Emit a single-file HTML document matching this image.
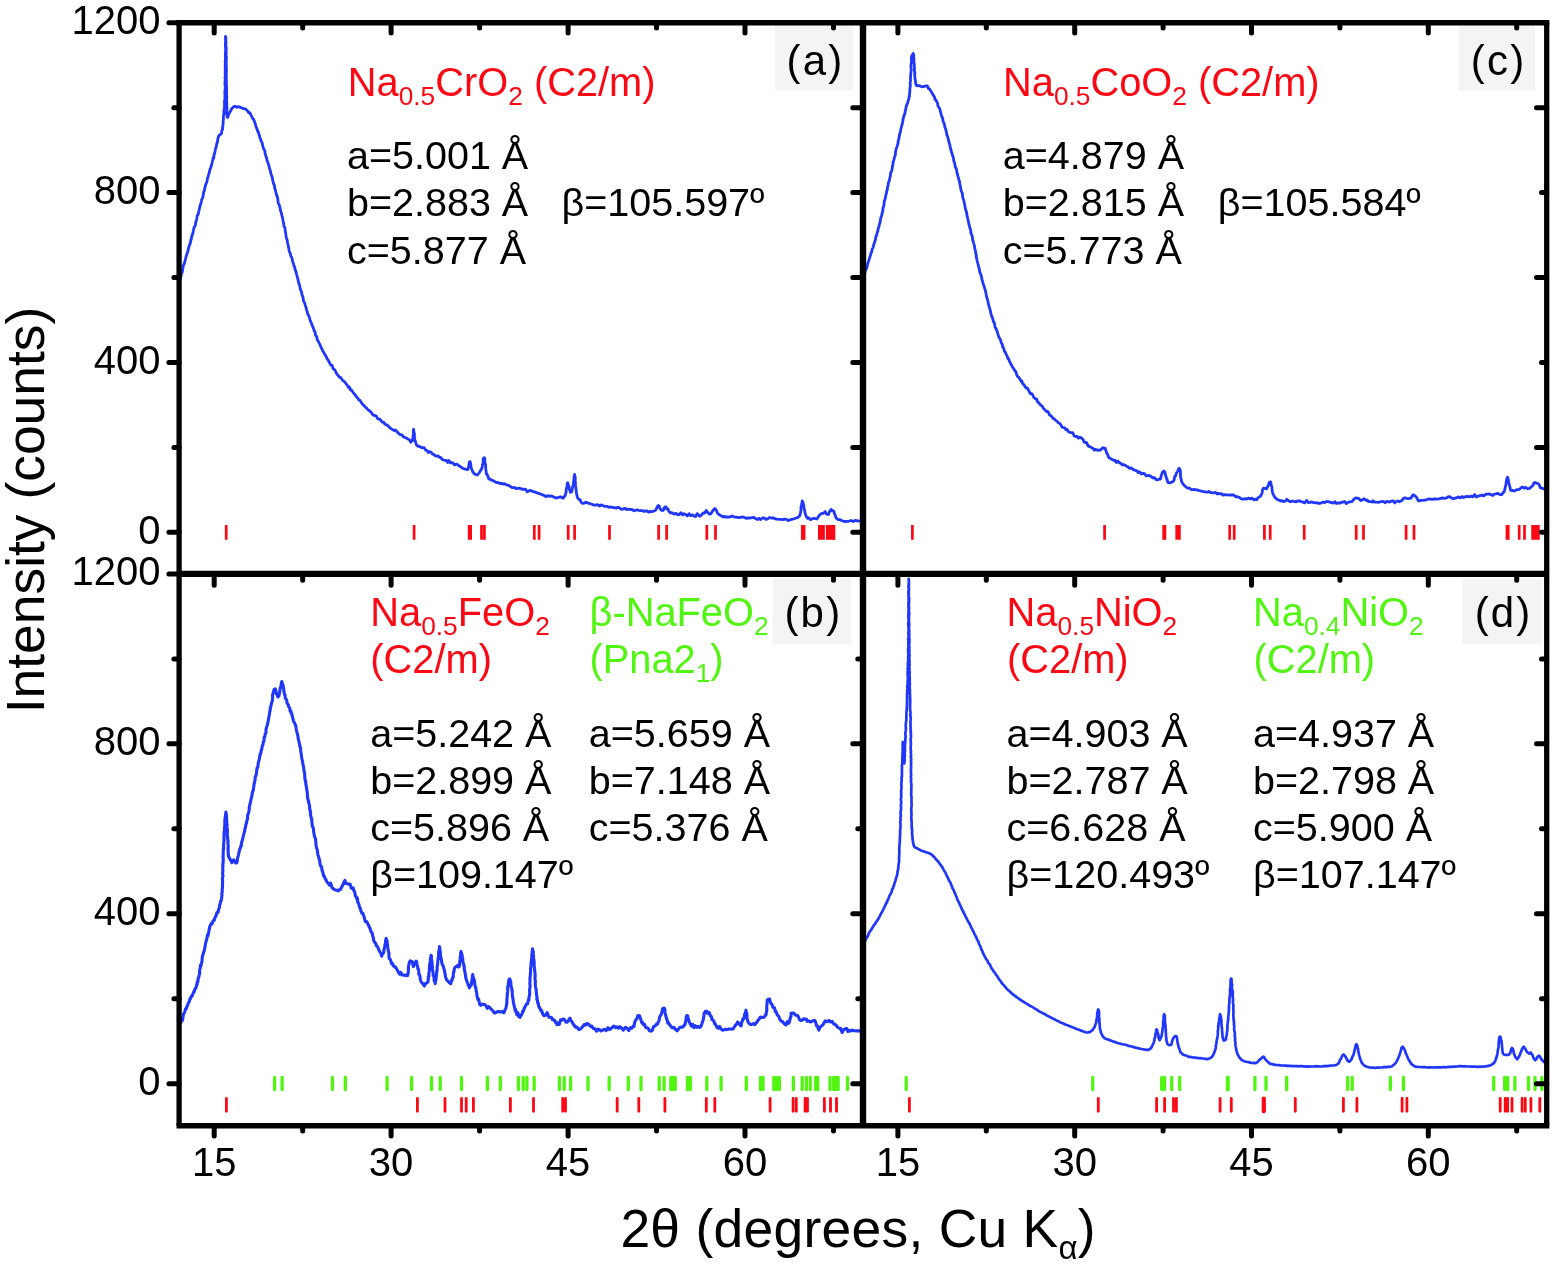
<!DOCTYPE html>
<html lang="en"><head><meta charset="utf-8"><title>XRD patterns</title>
<style>html,body{margin:0;padding:0;background:#fff}svg{display:block;will-change:transform}</style></head>
<body>
<svg width="1556" height="1265" viewBox="0 0 1556 1265" font-family='"Liberation Sans", Arial, Helvetica, sans-serif'>
<rect width="1556" height="1265" fill="#fff"/>
<rect x="775" y="25.4" width="78.0" height="65.0" fill="#f3f4f6"/>
<rect x="1458.5" y="25.4" width="76.5" height="65.2" fill="#f3f4f6"/>
<rect x="772.6" y="578.5" width="78.8" height="65.8" fill="#f3f4f6"/>
<rect x="1462.4" y="578.8" width="79.4" height="64.9" fill="#f3f4f6"/>
<defs>
<clipPath id="ca"><rect x="179.1" y="22.8" width="685.4" height="551.1"/></clipPath>
<clipPath id="cc"><rect x="863.0" y="22.8" width="684.7" height="551.1"/></clipPath>
<clipPath id="cb"><rect x="179.1" y="573.9" width="685.4" height="551.8000000000001"/></clipPath>
<clipPath id="cd"><rect x="863.0" y="576.9" width="684.7" height="551.8000000000001"/></clipPath>
</defs>
<polyline points="179.3,281.4 179.6,279.7 180.3,277.6 180.9,276.7 181.0,275.7 181.6,273.7 182.1,272.6 182.5,270.8 182.7,269.9 183.0,267.2 183.5,265.0 184.1,264.3 184.4,263.1 184.7,261.8 185.2,260.1 185.5,259.0 185.9,257.2 186.2,256.2 187.0,254.1 187.1,253.0 187.9,251.8 188.0,250.1 188.6,248.5 188.9,246.4 189.5,245.7 189.8,244.1 190.3,243.2 190.6,241.2 190.7,240.2 191.3,239.5 191.5,236.8 192.1,235.9 192.3,234.4 192.9,233.7 193.1,231.9 193.3,231.1 193.7,229.0 194.3,226.8 194.7,226.5 195.4,225.1 195.7,222.4 195.9,221.4 196.4,220.5 196.8,218.4 197.1,216.1 197.4,215.2 198.2,214.4 198.6,211.8 199.0,210.6 199.2,209.6 199.4,208.5 199.9,206.4 200.4,205.0 200.7,203.9 201.2,202.1 201.5,200.7 201.7,199.6 202.4,198.4 202.9,196.9 203.3,194.6 203.4,194.1 203.7,191.8 204.1,191.5 204.6,189.4 204.9,187.6 205.3,186.0 205.8,184.5 206.3,183.2 206.9,181.4 207.2,180.3 207.4,178.3 207.9,177.4 208.3,176.0 208.8,173.8 209.4,172.6 209.5,171.0 210.0,169.5 210.7,167.9 211.1,166.4 211.6,165.1 211.9,163.5 212.2,162.3 212.5,160.7 213.0,159.5 213.0,158.0 213.8,157.9 214.0,155.2 214.8,152.7 215.2,150.7 215.3,149.0 216.1,147.5 216.6,145.1 216.8,143.5 217.5,142.1 217.7,139.4 218.0,138.4 218.4,137.0 218.8,135.7 220.0,134.8 221.3,133.5 221.6,133.4 221.7,131.1 222.1,129.9 222.6,129.4 222.5,127.3 222.9,125.8 223.1,123.5 223.1,122.4 223.2,120.5 223.5,118.6 223.3,117.2 223.5,115.6 224.0,113.1 223.9,111.5 224.0,109.7 224.3,108.3 224.6,106.0 224.5,103.8 224.4,101.8 224.9,99.5 224.9,97.2 224.9,95.6 225.0,94.1 224.8,92.8 224.8,91.4 225.0,90.2 225.3,88.6 225.2,87.3 225.3,85.9 224.9,84.3 225.0,82.7 225.0,81.2 225.4,79.8 225.0,78.5 225.1,77.2 225.4,75.9 225.2,74.6 225.2,73.2 225.2,71.8 225.4,70.5 225.1,69.2 225.2,67.8 225.4,66.4 225.1,65.1 225.6,63.8 225.2,62.3 225.2,60.9 225.4,59.3 225.5,57.8 225.4,56.2 225.3,54.6 225.3,53.1 225.7,51.6 225.5,50.2 225.7,48.7 225.4,47.1 225.4,45.4 225.4,43.6 225.5,41.7 225.6,39.8 225.5,37.5 225.5,36.4 225.8,37.4 225.9,39.9 225.8,41.2 226.1,42.4 225.8,43.7 225.8,45.5 226.2,47.2 226.3,48.9 226.2,50.3 226.1,51.8 226.3,53.2 225.9,54.9 226.4,56.4 226.4,58.0 226.3,59.7 226.3,61.2 226.3,62.6 226.1,64.0 226.4,65.3 226.1,66.6 226.5,68.0 226.3,69.3 226.5,70.7 226.3,72.1 226.3,73.5 226.3,74.8 226.4,76.1 226.2,77.4 226.3,78.7 226.4,80.1 226.4,81.3 226.2,82.9 226.5,84.3 226.5,85.9 226.6,87.4 226.6,88.7 226.6,90.1 226.6,91.5 226.8,92.8 226.7,94.1 226.5,95.6 226.9,97.0 226.6,99.1 226.6,101.1 226.8,103.2 226.8,105.2 226.9,107.1 226.9,108.9 227.0,110.6 226.6,112.2 226.7,113.4 226.7,114.6 227.1,115.7 227.1,116.1 227.2,117.2 227.8,117.4 228.2,116.0 228.8,113.7 229.6,112.6 230.6,111.0 231.7,108.7 233.2,107.1 235.0,106.2 236.8,107.4 238.3,106.6 240.5,107.3 242.2,108.1 243.7,108.6 245.3,108.8 247.2,110.5 247.8,111.3 248.7,112.7 249.9,112.7 250.5,114.3 251.4,115.9 252.3,117.7 252.8,118.7 253.7,119.6 254.3,121.1 254.9,122.9 255.4,124.0 255.7,125.7 256.2,127.4 257.0,128.6 257.5,131.0 258.2,131.6 258.4,132.7 259.0,134.7 259.6,135.9 259.9,138.1 260.6,138.9 261.1,140.9 261.8,142.1 262.3,143.4 262.6,145.4 263.1,147.0 263.7,149.2 264.2,149.7 264.9,151.1 265.1,153.6 265.8,155.4 266.0,156.7 266.7,158.1 266.9,160.1 267.5,161.5 268.3,163.7 268.6,165.1 269.1,166.1 269.5,168.6 270.1,169.8 270.5,171.6 271.0,174.1 271.6,175.6 272.0,176.4 272.5,178.6 272.7,180.4 273.4,182.7 273.6,183.9 274.5,185.6 274.6,187.9 275.3,189.8 275.8,191.8 276.6,195.1 277.4,197.2 277.6,197.9 277.9,200.0 278.0,201.2 278.4,203.1 278.6,203.8 279.1,204.5 279.5,206.2 279.9,207.4 280.3,209.0 280.5,210.0 280.7,211.3 281.3,212.8 281.6,214.1 282.0,215.8 282.2,216.9 282.6,218.1 282.8,219.3 283.1,221.1 283.7,223.4 283.9,226.2 284.9,227.5 285.3,231.0 285.7,233.2 286.0,236.2 286.5,238.2 287.3,240.4 287.6,243.0 288.1,244.9 288.6,247.4 289.1,250.3 289.6,252.2 290.4,253.6 290.6,255.7 291.4,256.8 291.9,258.0 292.3,259.6 292.5,261.3 293.1,262.8 293.7,264.3 294.0,266.2 294.8,267.2 295.0,269.4 295.7,270.8 296.3,273.2 296.8,275.1 297.2,276.4 297.4,277.6 298.2,280.1 298.4,282.0 298.7,282.8 299.6,285.3 299.9,286.9 300.2,288.5 300.9,290.6 301.7,292.6 301.9,294.5 302.9,296.9 303.1,298.8 303.7,301.4 304.7,303.0 305.3,305.4 305.8,306.7 306.6,309.9 307.1,311.3 307.7,314.0 308.5,315.4 309.4,317.2 309.9,319.7 310.8,321.7 311.8,324.3 312.4,325.9 313.3,327.8 314.1,330.5 315.1,332.3 315.5,335.4 316.7,336.3 317.1,339.4 318.2,341.1 318.9,342.6 319.8,344.1 320.5,346.1 321.4,347.8 322.3,349.7 322.7,350.8 323.9,352.5 324.5,354.0 325.5,355.4 326.4,357.2 327.2,358.8 327.9,359.7 328.6,361.0 329.5,362.7 330.6,364.8 331.1,365.4 332.2,365.5 333.1,368.7 334.1,369.3 335.0,370.2 335.8,371.9 336.5,373.5 337.5,374.8 338.6,376.0 339.4,377.2 340.6,377.4 341.7,379.0 343.0,380.8 344.0,381.2 345.3,382.6 346.1,383.8 347.4,385.3 348.2,387.3 349.4,386.9 350.3,389.8 351.2,389.6 351.8,390.7 353.2,392.5 354.0,393.7 354.8,394.4 356.0,396.1 356.8,397.2 358.1,398.5 358.7,400.0 360.1,400.3 360.9,402.0 362.1,403.6 363.0,404.7 364.3,405.9 365.3,407.3 366.6,408.0 367.5,409.3 369.0,410.3 370.2,411.3 371.0,412.0 372.6,414.5 373.6,415.4 375.1,415.4 376.3,416.2 377.3,418.3 378.7,419.2 379.9,419.1 381.2,420.8 382.3,422.2 383.5,422.1 384.5,423.6 386.0,424.8 386.9,424.9 388.7,426.3 389.8,427.7 391.4,428.9 392.5,429.6 394.2,430.5 395.4,429.9 396.8,431.6 398.2,432.9 399.8,434.6 401.1,434.7 402.4,435.5 403.8,437.1 405.1,437.5 406.7,438.2 408.3,439.3 409.4,439.7 410.7,442.2 411.9,440.6 412.6,440.7 412.8,438.1 413.1,436.1 413.4,433.6 413.4,431.4 413.3,430.4 413.6,429.3 413.7,429.8 413.9,430.9 414.0,432.0 414.4,433.9 414.4,436.2 414.5,437.5 414.7,440.1 415.2,440.4 415.8,443.0 416.6,445.1 417.9,446.3 419.3,446.1 421.4,447.6 422.7,447.6 424.1,447.7 425.7,450.2 427.0,450.4 428.3,452.6 429.6,451.6 431.2,452.2 432.4,454.1 433.9,454.4 435.5,455.9 436.9,456.1 437.9,455.8 439.4,457.1 440.8,457.6 442.4,459.5 443.4,460.0 444.9,460.3 446.4,460.3 447.7,462.5 449.0,460.6 450.5,462.9 451.8,462.6 453.4,463.3 454.5,464.8 456.4,464.2 457.8,464.6 458.9,465.8 460.5,466.8 461.9,467.6 463.0,468.5 464.7,468.9 466.5,469.5 467.8,469.6 468.5,467.7 468.7,465.7 469.2,463.9 469.2,462.1 469.7,461.8 470.0,461.6 470.5,462.9 470.8,464.6 470.9,466.7 471.5,468.4 472.1,469.9 472.5,471.4 473.9,473.4 475.6,474.5 477.4,475.0 478.6,473.5 479.4,472.8 480.3,470.7 481.3,469.6 481.6,468.9 482.3,466.8 482.4,464.7 483.2,463.0 483.2,460.2 483.3,458.6 483.8,458.1 484.3,457.7 484.5,457.8 484.8,458.5 484.7,459.7 484.9,461.5 485.0,463.3 485.7,465.3 485.7,467.3 485.8,469.7 486.1,470.9 486.3,473.8 486.9,474.1 487.2,475.0 488.1,476.7 488.8,479.0 490.0,479.0 491.0,479.9 492.4,480.3 493.3,480.7 495.0,481.9 496.6,482.5 498.2,482.6 499.9,483.5 501.5,483.3 502.9,484.1 504.5,483.7 506.1,484.6 507.7,485.2 509.1,485.6 510.9,486.9 512.3,487.7 514.4,487.4 516.0,488.7 517.4,488.3 519.3,488.2 520.7,488.6 522.5,489.4 523.9,489.2 525.8,489.3 527.2,491.9 529.2,490.7 530.7,490.4 532.4,491.4 534.2,491.8 535.8,492.3 537.1,492.9 538.6,493.3 539.8,493.8 541.4,494.2 543.0,495.1 544.6,495.6 546.0,496.7 547.7,495.6 549.2,496.3 550.8,496.0 552.1,496.2 553.8,497.0 555.9,498.0 557.7,497.7 559.2,497.2 561.0,496.8 562.0,497.9 563.2,498.2 564.5,496.3 565.1,495.7 565.5,494.4 566.1,492.3 566.1,490.3 566.5,488.3 566.9,486.6 567.2,484.8 567.2,483.7 567.7,482.7 567.8,483.0 568.5,485.8 569.1,486.6 569.4,489.3 570.1,491.1 570.4,492.3 570.8,492.2 571.7,491.8 572.0,489.9 572.3,488.8 572.6,487.2 573.1,485.3 573.5,482.7 573.8,480.8 574.0,478.7 574.0,477.0 574.4,475.9 574.6,474.5 574.7,476.5 575.2,476.8 575.3,478.1 575.1,479.8 575.5,482.4 575.3,484.1 575.7,486.4 576.0,488.9 576.3,491.1 576.4,492.7 576.8,494.7 577.2,496.3 577.7,498.0 578.9,499.5 580.0,499.7 581.3,502.5 582.4,503.4 584.0,503.2 585.7,502.2 587.5,502.8 589.1,503.3 591.1,504.0 593.0,504.7 594.5,505.2 596.0,505.1 597.7,504.6 599.6,506.0 601.4,504.8 603.3,505.7 604.9,506.4 606.8,506.3 608.6,507.3 610.4,506.9 612.6,507.5 614.2,507.6 616.2,508.2 617.8,507.3 619.4,507.9 621.4,509.3 622.9,509.1 625.1,508.2 626.8,509.7 628.3,509.1 630.1,509.5 631.9,509.5 634.0,510.8 635.3,510.3 637.2,509.9 638.7,510.3 640.7,510.7 642.1,510.6 644.1,511.4 645.7,510.8 647.1,511.0 648.5,512.1 650.3,511.4 651.6,511.6 652.6,511.4 654.0,511.0 655.2,510.5 656.0,509.7 657.5,506.4 658.2,505.5 659.2,506.0 659.9,508.2 660.9,509.9 662.1,510.4 663.2,510.4 664.2,507.8 665.8,506.8 666.7,508.9 667.8,508.6 668.8,511.3 670.6,513.0 671.4,512.6 672.7,513.3 674.2,514.1 676.1,513.3 677.7,514.8 679.0,514.7 680.8,512.8 682.6,514.8 684.0,513.7 685.6,514.5 687.3,515.9 689.1,513.7 690.5,515.6 692.6,514.8 693.9,516.1 695.6,516.5 697.1,513.6 698.9,515.4 700.0,516.3 701.4,515.0 703.2,512.9 704.7,513.1 706.3,510.5 707.3,512.0 708.5,513.3 709.5,514.2 710.9,513.7 712.3,511.4 713.5,510.0 714.8,508.5 715.8,509.5 716.7,511.0 717.5,513.3 718.8,514.4 720.3,515.4 721.5,515.8 723.0,517.0 724.3,516.3 726.0,517.2 727.4,516.8 729.0,517.1 730.7,516.7 732.3,515.9 734.3,517.1 735.9,517.1 737.2,517.3 739.3,517.7 741.3,517.2 742.9,517.0 744.5,517.5 746.5,518.4 748.3,517.8 750.2,518.0 752.0,517.7 753.8,517.3 755.5,518.5 757.6,519.5 759.0,518.3 760.8,519.6 762.5,518.0 764.4,518.0 766.0,519.4 767.9,518.7 769.5,517.5 771.6,518.1 773.3,517.8 775.4,518.9 776.8,519.2 779.0,519.3 780.8,519.4 782.7,519.7 785.1,519.1 786.9,519.5 788.3,520.6 790.5,519.7 791.9,519.3 793.0,519.0 794.7,518.6 796.2,517.9 797.8,517.6 799.2,516.2 799.8,515.7 800.1,514.2 800.5,512.6 801.1,509.9 800.9,508.2 801.1,506.5 801.7,504.7 802.0,502.4 802.0,502.4 802.2,501.0 802.9,502.3 803.3,503.2 803.4,504.0 803.7,505.6 804.0,508.1 804.5,509.7 804.9,512.2 805.2,513.4 805.8,515.3 806.3,516.5 807.5,518.3 808.6,517.6 810.3,519.6 811.9,519.1 813.8,518.2 815.4,518.7 816.9,519.0 817.9,517.4 819.0,515.7 820.1,514.4 821.6,513.6 823.6,513.2 825.2,511.6 826.7,514.4 828.5,514.4 829.5,511.8 831.1,509.4 832.2,510.9 832.9,510.6 834.0,511.5 834.5,513.8 835.2,515.2 836.0,517.7 837.1,518.9 838.3,519.7 839.5,519.6 841.1,520.1 842.5,521.0 844.5,521.5 846.5,521.3 848.7,521.3 850.9,520.5 853.2,521.5 855.7,520.3 857.9,521.1 859.6,520.8 861.0,520.9 862.1,521.4 862.4,521.4" fill="none" stroke="#2036f8" stroke-width="2.8" stroke-linejoin="round" stroke-linecap="round" clip-path="url(#ca)"/>
<polyline points="863.7,277.6 863.4,277.2 864.0,276.3 864.1,274.5 864.8,273.1 865.1,271.4 865.9,269.3 866.8,268.2 867.4,265.5 867.6,264.0 868.0,262.9 868.7,260.8 869.3,259.3 869.9,256.7 870.4,255.5 870.9,253.2 871.7,251.9 872.1,249.3 873.1,247.6 873.6,244.9 874.1,243.8 874.7,241.5 875.2,240.8 875.5,239.5 875.7,237.1 876.4,236.2 876.5,235.1 877.1,233.2 877.5,231.7 877.9,230.9 878.2,229.1 878.4,227.8 879.0,226.6 879.2,225.2 879.9,222.7 880.1,222.5 880.4,219.5 880.8,218.5 881.0,217.0 881.7,215.6 882.0,214.1 882.4,212.1 882.9,210.2 882.9,208.7 883.6,206.3 884.1,204.7 884.1,201.9 884.6,200.6 885.0,199.1 885.7,196.7 885.8,194.9 886.5,193.3 886.6,191.3 887.4,189.4 887.4,187.5 887.9,186.4 888.3,183.8 888.7,181.8 889.5,180.4 889.6,178.6 890.2,176.7 890.4,174.8 890.7,172.6 891.5,171.5 892.0,169.6 892.3,167.0 892.6,166.0 892.9,164.6 893.2,161.6 893.6,160.7 894.3,158.4 894.4,157.2 895.3,155.1 895.4,153.9 895.6,151.4 896.0,149.8 896.4,148.2 897.1,146.5 897.4,145.5 898.1,142.9 898.1,141.0 898.6,139.7 899.0,138.3 899.2,136.1 899.6,135.1 899.7,133.7 900.3,132.6 900.5,131.0 900.8,129.2 901.2,127.9 901.7,125.8 902.1,124.7 902.2,123.9 902.8,121.2 903.0,119.8 903.1,118.8 903.6,117.3 903.8,116.1 904.5,114.5 904.8,113.9 905.3,110.8 905.7,109.9 906.1,106.7 906.8,104.7 907.6,103.3 907.9,101.8 908.3,100.2 908.9,99.0 909.0,97.1 909.6,96.1 909.4,94.4 909.8,92.8 909.8,91.0 909.9,89.8 909.9,88.1 910.3,86.5 910.3,84.9 910.1,83.0 910.5,81.3 910.5,79.3 910.5,77.6 910.6,76.0 910.8,73.5 911.1,71.6 911.2,69.3 910.9,66.9 911.1,64.7 911.3,62.7 911.6,60.1 911.3,58.4 911.6,57.1 911.8,55.7 911.9,55.5 912.8,54.2 913.2,53.5 913.2,53.8 913.6,54.3 913.7,55.4 913.6,56.8 914.0,58.9 913.8,60.7 914.0,62.8 914.4,64.6 914.2,66.7 914.6,68.3 914.3,69.6 914.6,71.6 914.9,73.0 914.6,74.4 914.8,76.2 915.0,78.0 915.0,79.0 915.4,80.3 915.5,82.1 915.9,83.9 916.2,85.2 916.9,85.8 918.3,85.5 919.7,85.9 921.9,86.8 923.4,86.5 925.3,86.2 926.7,85.7 927.8,86.6 928.4,88.7 929.4,88.8 930.6,90.7 931.6,92.2 932.0,93.1 932.8,94.4 933.7,95.7 934.6,97.3 934.9,99.2 936.0,100.1 936.6,101.5 937.3,102.5 937.7,104.2 938.0,106.1 938.6,107.0 939.4,108.1 939.9,109.3 940.4,111.6 940.9,112.9 941.1,114.4 941.6,115.7 942.1,117.3 942.8,118.4 942.9,120.7 943.5,122.2 944.1,123.5 944.5,124.6 944.8,127.0 945.6,128.8 946.1,131.3 946.5,132.0 946.7,134.8 947.4,135.8 948.0,138.2 948.5,139.5 948.7,141.3 949.3,143.3 950.0,145.3 950.0,147.0 950.6,148.2 951.1,150.7 951.5,152.3 952.1,153.6 952.8,156.4 953.1,156.8 953.5,158.5 953.8,161.0 954.6,163.0 954.9,164.3 955.3,167.1 956.1,168.2 956.6,170.1 956.9,172.9 957.4,173.6 958.0,176.7 958.5,177.9 959.1,180.6 959.6,181.7 959.7,183.5 960.2,185.5 960.7,188.4 961.2,190.8 961.8,192.3 962.5,194.0 962.5,196.6 963.1,198.4 963.9,200.9 964.1,202.2 964.7,204.8 965.1,207.5 965.5,208.8 966.0,210.8 966.8,213.3 966.9,215.4 967.5,217.2 968.0,219.8 968.5,221.9 969.0,224.5 969.5,226.2 969.9,228.1 970.7,229.8 970.8,232.6 971.5,234.5 972.0,235.8 972.4,236.8 972.6,240.2 973.0,240.7 973.5,242.3 973.8,243.6 974.3,245.2 974.6,247.1 974.7,248.1 975.1,250.2 975.7,251.6 975.6,253.5 976.3,254.4 976.2,255.9 976.5,258.3 976.9,259.1 977.2,261.0 977.8,263.3 978.2,264.6 978.3,266.0 978.9,267.2 979.4,269.4 979.6,271.2 980.1,273.2 980.7,273.9 981.3,276.2 981.7,277.7 982.0,279.7 982.6,281.5 983.0,283.3 983.8,285.4 984.4,287.3 984.7,288.3 985.4,290.6 985.8,292.5 986.2,294.4 986.5,296.6 987.0,297.8 987.7,300.3 988.1,301.6 988.3,303.8 989.1,306.2 989.5,307.8 990.1,309.7 990.5,311.6 990.9,313.8 991.7,316.1 992.3,317.5 992.8,318.8 993.3,321.5 994.3,322.6 994.8,325.5 995.2,327.3 996.2,328.9 997.0,331.0 997.7,333.4 998.1,334.6 998.8,337.2 999.6,338.2 1000.7,340.4 1001.2,342.6 1002.2,344.1 1002.7,346.9 1003.8,348.5 1004.4,351.6 1005.3,352.1 1006.2,354.3 1007.3,356.4 1008.0,358.8 1008.8,359.1 1009.4,361.3 1010.2,362.6 1011.0,364.4 1011.6,365.0 1012.5,367.2 1013.2,367.8 1014.0,369.3 1015.1,370.8 1015.9,371.9 1016.6,374.3 1017.4,376.3 1018.1,376.9 1019.1,377.8 1020.0,379.3 1020.9,381.3 1021.8,380.9 1022.5,383.4 1023.6,384.4 1024.6,385.6 1025.3,387.2 1026.5,388.0 1027.3,388.0 1028.4,390.1 1028.9,390.9 1030.3,393.7 1030.8,393.4 1032.0,393.8 1033.0,395.6 1033.7,397.1 1034.6,398.1 1035.9,399.1 1036.7,399.2 1037.8,402.2 1038.9,402.7 1039.9,404.4 1041.1,405.4 1042.4,406.3 1043.3,408.4 1044.3,409.1 1045.4,410.5 1046.5,411.5 1047.7,411.5 1048.7,412.9 1049.5,415.0 1050.6,415.6 1051.6,416.3 1052.9,418.2 1054.0,418.9 1055.0,419.7 1055.9,420.5 1057.1,421.4 1058.4,422.7 1059.9,423.6 1060.8,424.6 1062.2,427.3 1063.1,427.5 1064.8,427.9 1065.9,429.8 1067.2,429.4 1068.8,432.0 1070.1,432.6 1071.1,432.6 1072.8,432.7 1074.2,436.0 1075.5,436.5 1077.0,436.2 1078.4,438.2 1079.9,437.2 1081.8,438.3 1083.2,439.7 1084.1,442.1 1085.3,442.5 1086.4,442.4 1087.8,445.3 1088.7,446.3 1090.0,446.7 1091.5,447.7 1093.0,448.3 1094.2,450.1 1095.9,449.4 1097.5,450.3 1098.4,450.0 1100.1,450.4 1102.0,448.4 1103.1,447.7 1104.4,448.7 1105.3,448.3 1105.6,449.7 1106.2,451.4 1106.6,453.1 1107.5,453.8 1108.2,456.4 1109.4,458.2 1110.8,458.5 1112.5,459.8 1114.2,460.6 1115.0,460.3 1116.4,462.5 1117.9,461.1 1119.4,462.9 1120.9,463.3 1122.1,464.8 1123.7,464.6 1125.0,465.2 1126.6,466.4 1127.9,466.7 1129.3,468.3 1130.6,467.9 1131.7,468.2 1133.3,469.6 1135.1,470.3 1136.7,470.7 1138.2,472.5 1139.8,471.9 1141.2,474.0 1142.7,473.4 1144.5,473.7 1146.2,476.0 1147.8,475.5 1149.7,475.7 1151.2,476.5 1152.7,478.0 1154.5,477.6 1156.1,479.6 1157.6,479.8 1159.5,479.1 1160.4,479.1 1160.9,477.1 1161.6,474.6 1162.5,472.1 1163.1,472.2 1163.6,471.0 1164.4,471.4 1165.1,473.1 1165.5,474.7 1166.2,477.4 1166.7,478.5 1167.3,480.5 1167.8,482.3 1169.8,482.9 1172.0,481.9 1172.8,481.7 1173.6,481.0 1174.2,479.6 1174.8,476.2 1175.6,476.0 1176.3,473.3 1177.2,472.0 1177.9,470.9 1178.6,468.8 1179.2,468.5 1179.5,468.5 1180.0,469.6 1180.4,471.0 1180.5,472.3 1180.4,474.7 1180.6,477.1 1181.0,478.8 1181.4,480.4 1181.9,482.3 1182.7,483.4 1183.4,484.3 1184.4,485.5 1186.0,487.0 1187.5,488.2 1188.4,488.0 1189.6,488.2 1191.1,489.6 1192.7,489.6 1194.4,489.4 1196.0,489.9 1197.3,489.9 1199.2,490.6 1200.8,490.9 1202.2,491.3 1204.0,491.6 1205.5,492.0 1207.2,492.2 1208.9,491.4 1210.3,492.5 1211.9,492.6 1213.6,493.0 1215.6,492.4 1217.2,494.1 1218.5,493.3 1220.2,493.8 1221.7,493.7 1223.1,495.2 1225.1,494.7 1226.7,494.8 1228.2,494.8 1229.8,495.1 1231.0,495.0 1232.5,494.9 1234.1,495.2 1236.0,497.0 1237.6,496.7 1238.9,497.2 1240.8,498.5 1242.3,499.2 1243.9,499.1 1245.6,498.6 1246.8,499.1 1248.5,498.1 1250.4,499.0 1252.2,498.1 1253.8,499.9 1255.2,499.2 1256.8,499.7 1257.9,497.8 1259.2,496.9 1260.4,496.3 1261.1,495.1 1261.9,493.7 1262.3,491.7 1262.6,489.5 1263.6,488.2 1265.1,488.3 1266.6,488.8 1267.7,486.7 1268.5,484.8 1269.4,482.2 1270.4,482.3 1270.6,482.0 1271.0,483.3 1271.3,485.8 1272.0,486.8 1272.0,489.2 1272.4,491.5 1272.9,493.8 1273.6,495.1 1274.3,496.4 1275.3,497.8 1276.3,498.6 1277.7,499.8 1279.3,500.2 1280.7,501.0 1282.2,500.6 1283.6,501.5 1285.4,501.2 1286.8,499.3 1288.9,500.9 1290.6,501.8 1292.4,501.0 1294.0,501.4 1296.0,501.8 1297.3,501.0 1299.4,500.8 1301.1,501.6 1302.6,501.9 1304.7,502.9 1306.6,500.4 1308.4,502.6 1310.0,502.4 1311.6,501.9 1313.8,502.7 1315.5,502.9 1317.3,502.6 1318.8,503.5 1320.8,503.1 1322.5,502.1 1324.7,502.5 1326.5,501.6 1328.3,501.7 1329.9,502.2 1331.5,502.7 1333.1,503.2 1335.1,501.7 1336.4,503.5 1338.4,502.8 1339.9,503.1 1341.9,502.2 1343.1,502.1 1344.6,501.5 1346.3,503.6 1347.9,502.4 1349.0,501.9 1350.4,501.8 1352.3,501.3 1353.7,499.4 1355.4,498.0 1356.6,498.1 1358.4,498.1 1359.9,499.8 1360.9,500.5 1362.8,499.5 1364.2,498.7 1365.8,500.4 1367.1,500.0 1368.5,501.6 1370.7,501.7 1372.0,502.0 1373.0,500.8 1374.5,502.1 1376.4,502.2 1378.3,502.3 1379.9,501.9 1381.7,501.7 1383.2,501.5 1385.3,502.7 1386.7,501.3 1388.0,501.7 1389.6,502.1 1391.3,501.2 1392.9,500.8 1394.8,502.9 1396.2,501.3 1397.7,501.0 1399.2,501.8 1400.2,501.3 1401.9,500.5 1403.5,498.4 1405.1,497.9 1406.5,498.3 1408.3,498.6 1409.9,498.3 1411.1,498.2 1412.1,496.1 1412.8,494.8 1413.9,494.8 1414.7,495.8 1416.0,496.6 1416.9,498.0 1418.4,500.8 1419.6,500.9 1420.7,500.4 1422.2,500.3 1423.8,500.1 1425.2,500.2 1426.9,499.5 1428.5,499.0 1430.3,499.2 1432.1,499.4 1433.7,499.0 1435.6,498.9 1436.9,499.1 1439.0,498.9 1440.8,498.4 1442.6,497.9 1444.0,498.3 1446.1,498.2 1447.9,496.8 1449.8,496.6 1451.6,498.1 1453.5,498.6 1455.2,498.1 1456.8,497.6 1458.6,496.9 1460.5,497.9 1462.3,496.5 1463.7,497.6 1465.8,496.6 1467.2,496.4 1469.3,496.9 1471.0,496.1 1472.8,496.9 1474.7,494.6 1476.2,496.9 1478.0,496.2 1480.2,495.7 1481.8,495.1 1483.8,495.9 1486.0,494.1 1487.5,494.1 1489.4,493.9 1491.2,494.8 1492.8,495.6 1494.3,494.1 1495.9,493.8 1497.9,493.3 1499.9,494.6 1501.7,494.7 1503.1,492.6 1503.9,492.3 1504.5,490.6 1505.0,488.7 1505.3,486.8 1505.9,485.2 1506.2,481.9 1506.5,480.7 1506.7,478.9 1507.2,478.1 1507.5,477.3 1507.8,477.5 1508.3,479.5 1508.4,480.8 1508.8,482.8 1509.5,485.2 1509.9,486.9 1510.2,488.5 1510.7,490.3 1511.6,490.0 1513.0,490.8 1514.9,490.8 1516.8,489.6 1518.7,489.6 1520.3,488.6 1522.1,486.9 1524.1,488.2 1525.2,487.3 1527.7,488.7 1529.7,488.4 1530.8,487.2 1532.2,486.2 1533.2,484.7 1534.1,482.9 1535.2,482.5 1536.5,483.2 1537.9,483.5 1539.1,484.5 1540.3,487.7 1542.5,488.4 1544.6,489.3 1545.6,489.6" fill="none" stroke="#2036f8" stroke-width="2.8" stroke-linejoin="round" stroke-linecap="round" clip-path="url(#cc)"/>
<polyline points="180.6,1022.2 180.8,1022.4 181.1,1022.0 181.6,1020.8 181.8,1019.6 182.5,1020.2 183.4,1014.5 183.7,1013.8 184.7,1012.2 185.6,1008.7 186.3,1008.8 187.0,1006.2 187.5,1005.7 188.3,1002.9 189.1,1002.1 189.9,998.8 190.4,998.7 191.4,996.2 192.2,996.2 192.6,994.7 193.7,991.8 194.1,992.0 194.9,989.3 195.5,988.7 196.3,986.7 196.9,983.8 197.2,984.3 197.2,981.7 197.9,981.9 198.1,978.6 198.5,977.8 198.8,977.2 199.0,975.6 199.7,973.4 199.5,971.6 199.9,969.2 200.2,968.4 200.4,965.4 201.0,966.1 201.2,963.9 201.7,962.8 202.1,960.4 202.1,959.9 202.2,958.0 202.6,955.4 202.9,955.3 203.2,953.8 204.2,950.7 204.7,948.3 205.0,947.1 205.5,943.6 206.0,941.6 206.7,939.2 207.1,937.7 207.4,935.0 208.0,935.6 208.6,932.5 209.2,929.9 209.6,927.2 210.2,925.7 211.2,923.7 211.8,923.9 212.7,922.2 213.1,920.7 214.2,920.3 214.8,918.2 215.5,916.6 216.0,916.2 216.6,913.5 217.2,912.3 218.0,912.4 218.5,910.1 218.8,908.7 219.3,908.3 219.7,904.4 220.1,904.2 220.6,901.3 221.1,900.9 221.5,898.7 221.7,897.2 222.0,894.7 221.8,893.3 222.1,892.2 222.3,891.3 222.1,889.2 222.4,888.5 222.5,886.5 222.4,885.2 222.7,883.7 222.5,882.4 222.6,880.5 222.5,879.5 222.4,878.1 223.0,876.2 222.7,875.0 222.6,873.1 222.9,871.7 222.8,870.0 222.8,868.5 222.7,867.1 223.0,865.5 222.7,864.2 223.2,862.4 223.2,860.7 223.2,859.5 223.2,858.0 223.0,856.6 223.2,855.5 223.2,854.2 223.2,852.3 223.2,851.3 223.5,849.5 223.4,848.2 223.8,846.6 223.5,844.5 223.9,841.8 224.0,841.5 224.1,839.8 223.8,838.4 224.1,837.3 224.1,835.2 224.0,834.4 224.1,833.1 224.1,831.7 224.7,830.3 224.5,828.8 224.5,827.5 224.7,826.6 224.8,824.4 224.8,822.9 224.8,820.5 225.0,819.2 225.0,818.2 225.3,817.1 225.6,813.9 225.8,814.3 225.9,812.1 226.2,813.7 226.2,814.1 226.3,815.5 226.6,818.1 226.7,820.5 226.8,822.6 226.8,823.0 227.2,825.0 227.0,826.2 226.9,828.2 227.4,829.1 227.4,830.8 227.4,832.1 227.2,834.0 227.3,835.4 227.7,836.9 227.5,838.1 228.0,840.3 228.1,842.0 227.8,843.8 228.2,845.2 228.3,846.9 227.8,848.6 228.3,850.0 228.0,851.9 228.4,853.6 228.3,854.8 228.6,856.4 228.6,856.8 229.0,857.2 229.8,858.9 230.7,860.4 231.9,862.7 233.6,859.9 235.7,863.0 236.5,862.9 237.1,861.9 237.4,858.5 237.8,857.3 238.3,855.6 238.7,853.8 239.2,851.3 239.5,850.7 239.6,849.3 240.3,848.5 240.6,846.6 241.3,846.1 241.4,843.2 242.1,841.0 242.4,840.0 242.6,838.8 243.3,836.2 243.8,834.3 244.1,832.7 244.8,830.9 244.8,829.2 245.3,828.0 245.6,826.3 245.9,825.2 246.3,823.1 246.6,823.1 246.7,821.0 247.2,819.8 247.5,819.0 247.6,815.9 247.9,814.6 248.4,813.4 248.8,811.8 249.2,809.5 249.2,807.3 249.4,807.1 249.7,805.3 250.2,803.0 250.6,801.9 250.8,800.3 251.2,798.4 251.6,797.3 252.1,795.0 252.0,794.6 252.4,792.3 253.0,790.6 253.3,790.6 253.4,788.6 253.9,786.1 254.1,784.0 254.4,783.1 254.8,780.8 255.2,779.3 255.1,777.4 255.6,775.9 256.0,775.8 256.3,773.7 256.6,772.6 256.7,771.0 257.0,768.0 257.7,767.5 258.0,766.0 258.2,763.1 258.5,762.2 258.7,761.2 259.2,759.9 259.6,757.2 259.7,756.6 260.0,754.5 260.2,755.1 260.7,752.8 261.0,752.7 261.3,749.4 261.8,749.3 262.0,747.6 262.2,745.8 262.5,745.7 263.1,744.2 263.2,742.3 263.8,741.4 264.1,739.4 264.1,737.1 264.6,737.1 265.0,736.2 265.1,734.1 265.3,734.0 266.0,732.8 266.0,729.2 266.7,726.9 267.4,724.8 267.8,722.3 268.2,721.4 268.7,717.7 269.3,715.1 269.7,711.9 270.1,710.4 270.4,707.8 271.0,705.8 271.5,702.9 272.0,702.0 272.4,700.3 272.6,698.2 272.6,695.0 273.0,693.5 273.5,691.9 274.0,689.6 274.3,690.2 274.7,689.9 275.3,688.8 275.6,689.5 276.4,694.1 276.8,694.1 277.6,695.9 277.8,697.0 278.2,696.7 278.9,695.9 279.4,693.1 279.8,691.7 280.1,688.6 280.6,687.8 280.9,686.4 281.4,683.1 281.8,681.5 282.1,682.2 282.3,683.1 282.7,684.8 283.1,685.1 283.3,687.0 283.7,688.6 283.8,690.6 284.2,692.3 284.4,694.4 285.1,695.1 285.3,698.3 286.0,698.9 286.8,700.7 287.0,702.8 287.6,704.0 288.4,704.8 288.7,706.9 289.7,707.8 290.1,711.0 290.9,711.0 291.1,713.3 291.8,713.7 292.0,715.2 292.8,718.2 292.9,718.5 293.4,720.7 293.9,722.1 294.4,722.6 294.9,723.8 295.7,725.5 296.2,728.7 296.6,730.8 297.0,732.5 297.7,735.0 298.1,737.1 298.2,738.6 299.0,741.8 299.6,744.3 300.0,747.2 300.5,747.3 300.7,750.7 301.2,753.8 301.6,757.2 302.0,759.2 302.4,761.0 302.7,761.1 302.7,763.6 303.2,765.4 303.5,766.4 303.7,768.2 304.0,769.7 304.1,771.8 304.3,771.8 304.7,774.1 304.7,775.3 304.8,776.3 305.0,779.9 305.5,780.8 305.8,782.4 305.8,784.2 306.2,785.6 306.4,787.5 306.8,788.8 306.7,789.8 307.2,791.7 307.4,793.7 307.4,794.3 307.6,797.6 307.8,798.6 308.0,799.9 308.7,800.9 308.5,802.0 309.1,804.0 309.3,804.7 309.6,806.0 309.6,807.7 309.7,809.3 310.3,810.2 310.2,812.0 310.6,813.1 310.6,815.7 311.0,816.6 311.3,818.3 311.7,818.9 311.8,821.5 311.9,821.3 312.2,825.6 312.5,825.7 312.6,826.9 313.2,827.9 313.5,828.2 313.6,831.5 313.9,833.0 314.6,837.0 314.9,837.3 315.5,838.9 316.0,844.4 316.1,845.9 316.5,847.8 317.3,850.1 317.7,853.4 317.9,854.8 318.6,856.5 319.1,859.1 319.5,859.8 319.9,862.5 320.3,865.2 320.7,866.3 321.6,866.7 322.0,870.1 322.1,870.6 322.7,871.8 323.3,874.4 323.7,876.0 324.3,876.4 325.1,878.5 325.6,879.0 326.8,881.7 327.5,882.5 328.5,883.8 329.4,885.0 330.7,883.1 332.1,887.7 333.8,889.1 334.9,889.8 336.7,890.2 338.2,890.9 339.1,889.7 340.6,889.4 341.5,887.1 342.6,885.6 343.8,882.7 344.9,880.4 345.7,883.2 347.4,883.7 348.8,884.2 350.1,884.1 351.3,888.2 352.5,888.1 353.2,887.9 353.9,890.8 354.4,891.2 354.9,892.9 355.3,895.5 356.2,897.3 356.5,896.9 356.9,899.3 357.5,898.4 357.7,902.4 358.2,902.5 359.0,904.7 359.5,907.4 359.6,907.4 360.4,908.5 360.8,910.6 361.6,912.6 362.3,913.6 362.9,913.4 364.0,916.5 364.6,918.9 365.2,921.5 366.2,921.4 366.9,921.8 368.1,924.6 368.6,925.0 369.2,927.1 370.2,928.6 370.4,929.7 371.0,931.7 371.7,932.7 372.2,932.8 372.8,936.5 373.3,937.4 373.4,938.8 374.0,941.3 374.8,942.4 375.8,943.5 376.2,945.5 377.5,946.5 378.2,948.3 378.8,949.8 380.0,952.0 380.9,953.4 381.7,956.2 382.1,954.6 382.8,953.9 383.7,952.3 383.9,950.3 384.3,948.5 384.8,946.7 385.0,944.4 385.6,943.8 385.5,940.5 385.8,940.1 386.2,938.3 386.3,939.7 386.8,940.4 387.2,941.6 387.4,944.0 387.6,945.2 387.9,948.0 388.3,950.8 388.3,951.0 389.0,953.3 388.9,954.5 389.1,958.3 389.6,958.7 390.3,959.5 390.9,961.0 391.6,963.6 392.3,963.3 393.3,965.6 394.1,966.6 394.9,966.5 396.0,968.0 397.0,969.4 398.2,971.9 399.6,974.1 400.7,972.3 402.0,975.0 403.7,975.0 405.6,975.6 407.1,974.6 407.5,975.6 408.0,973.4 408.3,972.8 408.4,969.3 408.5,967.9 408.6,965.9 409.0,964.3 409.2,962.6 409.3,962.8 410.2,960.8 411.3,961.4 412.2,961.6 412.8,964.1 413.4,966.5 414.2,963.7 415.0,964.1 415.3,962.4 416.0,961.2 416.6,961.4 416.8,962.8 417.1,965.2 417.7,966.8 417.8,968.7 418.4,969.3 418.8,971.2 418.8,974.2 419.6,974.8 420.1,977.6 420.2,979.1 420.9,981.4 421.2,981.9 422.2,983.1 423.7,984.9 424.5,986.0 425.7,983.2 426.9,983.0 427.8,982.0 428.3,980.1 428.3,976.7 429.0,976.4 428.7,974.8 429.0,972.6 429.4,970.9 429.3,968.7 429.5,967.5 429.6,965.5 429.6,964.2 430.3,962.2 430.3,959.9 430.5,958.0 430.8,957.4 431.0,955.3 431.5,956.1 431.3,957.0 431.5,959.1 431.8,960.6 432.0,962.4 432.3,965.5 432.5,967.0 432.3,968.6 432.7,970.6 433.1,972.8 433.1,975.0 433.4,975.1 434.1,977.9 434.1,980.3 434.3,980.7 435.0,982.4 435.3,983.6 435.3,982.6 435.4,981.3 435.9,980.2 436.0,978.3 436.3,976.3 436.5,974.1 436.6,973.1 437.0,970.6 437.2,969.0 437.1,967.0 437.4,965.7 437.5,964.8 437.8,962.7 437.8,960.4 438.2,958.9 438.2,957.8 438.5,957.1 438.5,954.7 438.6,952.0 439.2,949.6 439.4,950.0 439.4,946.5 439.8,948.4 440.0,950.0 440.1,950.8 440.4,953.2 440.3,954.9 440.8,956.9 441.1,959.2 441.4,959.3 441.7,962.1 442.2,964.2 442.8,965.7 443.4,966.3 443.9,969.0 444.1,969.4 444.5,970.4 444.7,972.3 445.2,974.3 445.3,975.6 445.8,977.8 446.3,978.9 447.3,980.7 448.3,981.4 449.3,982.7 450.8,983.7 451.9,979.5 452.3,979.6 452.6,977.7 453.3,976.8 453.3,974.8 453.6,971.9 453.8,972.4 454.4,968.5 455.4,966.9 457.0,966.3 458.0,965.1 458.5,967.0 458.9,965.8 459.4,966.2 459.8,963.9 459.7,961.7 460.1,959.4 460.2,957.9 460.5,954.8 460.8,952.7 460.7,953.3 461.1,951.4 461.2,952.2 461.5,953.3 462.1,954.8 462.3,958.0 462.7,958.6 462.8,961.7 463.3,962.9 463.7,964.3 464.0,966.1 464.2,966.4 464.2,969.2 464.7,970.4 464.8,971.8 465.1,973.2 465.5,974.8 465.8,978.4 466.3,979.4 467.0,981.8 467.6,982.9 468.4,985.6 469.1,986.3 469.4,987.9 470.4,985.9 471.4,984.5 471.6,982.2 472.2,978.3 472.3,977.6 472.7,974.6 473.1,977.1 473.4,977.6 473.9,979.6 474.4,980.5 474.7,983.1 475.0,985.8 475.4,986.8 475.9,988.3 476.2,991.1 476.5,991.8 476.7,992.9 477.0,996.6 477.5,997.5 477.8,999.4 478.6,999.0 479.6,1004.0 480.8,1005.4 482.4,1004.1 484.0,1004.4 485.6,1005.2 487.3,1008.3 488.7,1006.7 490.1,1007.9 491.4,1009.4 492.4,1010.4 493.2,1011.1 494.3,1013.0 495.1,1013.0 497.2,1011.8 498.3,1011.6 499.9,1012.0 501.8,1011.5 502.8,1012.4 504.0,1012.6 504.9,1010.2 506.0,1007.9 506.3,1006.3 506.7,1004.0 506.8,1003.5 506.9,1000.8 506.9,999.5 507.1,997.4 507.3,995.3 507.3,993.3 507.6,992.0 507.8,989.6 507.6,988.3 507.7,986.8 508.3,985.4 508.4,982.6 508.7,980.9 509.2,979.2 509.5,980.7 509.8,979.0 510.4,980.7 510.8,981.9 510.9,985.5 511.3,986.9 511.7,988.5 511.9,989.6 512.2,991.1 512.2,992.6 512.4,995.1 512.4,995.9 512.9,998.6 513.2,1000.3 513.4,1002.7 513.6,1003.4 513.9,1004.3 514.4,1006.9 514.9,1008.5 515.1,1010.5 515.7,1009.4 516.2,1012.5 517.0,1015.0 517.9,1012.7 519.0,1016.9 520.0,1017.3 520.8,1015.7 521.7,1014.5 522.3,1013.1 522.6,1011.3 523.3,1011.4 524.4,1007.6 524.9,1007.5 526.0,1004.7 526.8,1004.0 527.5,1003.9 528.4,999.7 528.9,1000.1 528.9,998.1 529.1,997.0 529.7,993.9 529.7,992.2 529.5,989.9 530.0,987.6 530.1,985.5 529.8,983.3 530.1,981.0 529.9,979.3 530.1,976.9 530.4,975.1 530.3,973.5 530.6,972.6 530.6,970.3 530.6,968.5 530.8,967.1 531.0,965.0 531.0,964.0 531.2,962.3 531.5,960.3 531.5,959.6 531.8,957.6 531.8,954.9 532.2,953.6 532.2,951.1 532.2,950.9 532.6,948.8 532.7,950.2 532.9,950.9 533.4,952.0 533.1,954.2 533.6,955.7 533.5,958.5 534.0,960.4 534.2,963.2 534.0,963.5 534.3,966.9 534.5,969.0 534.8,971.4 534.9,972.5 535.1,974.8 535.2,976.2 534.9,978.1 535.0,979.2 535.3,980.4 535.4,981.5 535.2,983.2 535.5,986.5 536.0,988.9 536.2,990.5 536.4,993.5 536.6,995.1 537.0,997.0 536.8,999.4 537.4,999.5 537.6,1002.1 537.7,1003.1 538.4,1003.2 538.6,1006.0 539.5,1008.0 540.0,1008.1 540.9,1010.9 541.6,1010.5 542.8,1014.0 543.9,1015.6 545.6,1015.3 547.1,1012.6 548.7,1017.1 550.1,1017.2 551.7,1017.8 552.6,1019.8 553.6,1019.6 554.6,1020.6 555.4,1022.2 556.3,1022.0 557.0,1024.6 558.4,1023.5 559.2,1024.6 560.5,1019.9 561.5,1020.3 562.6,1019.5 563.6,1019.0 564.5,1019.7 566.0,1022.3 566.8,1022.2 567.9,1021.4 569.1,1019.3 570.0,1018.1 570.7,1020.2 571.3,1020.8 572.0,1021.8 573.0,1023.7 574.2,1025.2 575.2,1027.1 577.1,1027.1 578.8,1029.6 580.3,1029.1 581.6,1027.9 583.3,1025.7 584.5,1024.4 585.7,1025.1 586.8,1023.6 588.4,1023.9 589.3,1025.2 590.9,1026.6 591.8,1026.2 593.3,1028.4 595.0,1028.8 596.6,1031.2 598.1,1029.2 600.0,1030.0 601.1,1031.0 602.6,1030.1 604.6,1029.2 606.1,1030.7 607.9,1027.7 609.6,1029.6 610.9,1028.7 612.5,1027.2 614.1,1026.1 615.7,1027.7 617.0,1026.9 618.6,1028.2 619.9,1026.7 621.7,1028.0 623.2,1030.2 625.4,1027.4 627.2,1028.4 628.8,1030.6 630.4,1027.7 631.9,1028.2 633.1,1026.2 634.0,1026.5 634.5,1023.3 635.0,1021.3 636.0,1019.7 636.9,1018.8 637.7,1015.8 638.9,1015.5 639.5,1015.9 640.1,1017.4 640.7,1019.1 641.9,1023.0 642.5,1022.4 643.4,1024.6 644.7,1024.5 645.6,1027.4 646.9,1027.7 648.2,1028.3 649.4,1030.7 650.9,1031.1 652.3,1030.3 653.5,1026.7 654.5,1026.3 656.0,1025.1 656.7,1023.9 657.6,1024.0 658.1,1022.4 659.1,1020.3 659.6,1017.5 660.0,1016.3 660.9,1015.1 661.5,1013.4 662.2,1011.2 662.4,1009.0 663.0,1008.4 663.8,1009.6 664.1,1008.1 664.8,1008.9 665.0,1012.4 665.1,1013.2 665.6,1014.8 666.2,1017.5 666.7,1019.4 667.1,1019.6 667.8,1023.1 668.5,1022.7 669.3,1024.1 670.6,1026.0 671.3,1026.9 672.6,1027.9 673.9,1027.4 675.8,1029.8 677.2,1030.9 679.0,1028.3 680.3,1027.0 681.8,1027.2 683.3,1026.7 684.4,1024.7 684.9,1025.0 685.5,1022.2 686.0,1019.7 686.1,1017.6 686.5,1016.4 686.8,1015.5 687.6,1015.7 688.1,1017.8 688.4,1019.0 689.2,1021.7 690.0,1023.3 691.4,1026.1 692.7,1024.3 693.9,1027.7 695.2,1025.7 696.6,1027.3 698.1,1026.4 699.7,1027.5 701.1,1026.1 701.9,1023.7 702.6,1021.4 703.1,1019.9 703.5,1018.2 703.9,1016.1 704.1,1013.4 704.3,1012.7 705.1,1012.5 705.4,1011.2 706.9,1011.3 707.7,1013.4 709.3,1012.7 710.3,1015.8 711.4,1016.6 711.9,1019.6 712.7,1019.5 714.1,1021.8 714.7,1023.8 715.6,1024.5 717.1,1027.6 718.2,1028.2 719.6,1026.4 720.9,1028.8 722.4,1030.2 723.7,1029.9 725.3,1029.2 727.0,1029.6 728.6,1029.0 730.6,1029.0 732.4,1029.3 733.5,1028.3 735.4,1025.2 736.6,1024.2 737.6,1022.0 739.1,1023.8 740.4,1025.4 741.2,1025.8 741.6,1022.5 742.5,1020.8 742.9,1018.8 743.5,1019.2 744.4,1016.4 744.8,1013.7 745.3,1013.1 746.0,1010.2 746.1,1012.0 746.6,1012.8 747.0,1014.8 746.9,1018.4 747.4,1019.4 748.0,1021.9 748.9,1023.1 750.3,1024.5 751.7,1024.5 753.6,1023.5 754.7,1024.7 756.0,1023.0 757.2,1021.9 758.0,1020.3 759.1,1019.2 760.4,1017.0 762.1,1017.5 764.1,1017.3 765.2,1015.5 766.2,1014.6 766.1,1013.4 766.6,1011.6 766.8,1009.5 766.7,1006.8 767.0,1004.4 767.0,1002.9 767.2,1001.2 767.5,999.6 768.0,999.4 768.6,999.7 769.5,998.8 770.7,1003.2 772.0,1004.4 772.9,1007.2 773.4,1007.7 774.6,1007.9 775.3,1011.8 775.6,1010.9 776.7,1013.1 777.1,1014.6 778.2,1015.8 778.7,1016.3 779.9,1019.4 781.0,1021.0 782.2,1021.4 783.6,1022.9 784.8,1024.2 786.0,1025.0 787.4,1021.6 788.7,1023.3 789.6,1021.3 790.1,1018.6 790.9,1016.7 791.1,1013.2 792.1,1013.0 793.7,1013.1 795.6,1015.2 797.3,1015.3 798.5,1017.0 799.3,1019.3 800.7,1020.6 802.2,1020.3 803.6,1018.7 804.9,1019.2 806.3,1019.0 807.2,1021.4 808.6,1020.9 810.9,1022.0 812.8,1020.8 814.9,1020.6 815.8,1022.8 816.5,1025.6 817.4,1026.0 818.1,1028.3 818.9,1030.1 819.8,1027.4 820.7,1026.8 822.2,1025.3 823.3,1024.4 824.3,1022.2 825.3,1020.9 827.0,1021.8 829.0,1020.4 830.4,1021.9 832.2,1021.4 833.2,1023.2 834.6,1024.4 835.9,1024.7 837.0,1026.6 838.5,1027.9 839.6,1028.4 840.6,1028.4 842.1,1032.5 843.7,1029.7 845.8,1028.6 846.8,1028.6 848.0,1031.6 849.3,1030.4 850.9,1031.0 852.1,1030.1 854.2,1030.8 856.4,1030.9 858.5,1030.8 860.2,1031.0 861.0,1031.9" fill="none" stroke="#2036f8" stroke-width="3.1" stroke-linejoin="round" stroke-linecap="round" clip-path="url(#cb)"/>
<polyline points="862.8,945.3 862.8,945.0 863.1,944.2 864.0,943.5 864.6,942.1 865.2,940.6 866.0,938.9 867.3,937.1 868.2,935.3 868.8,933.3 869.8,931.6 871.0,930.0 871.8,928.9 872.5,927.5 873.3,926.2 874.0,924.9 875.3,923.7 875.8,922.3 877.0,921.0 877.8,919.8 878.5,918.5 879.3,917.3 879.9,915.8 880.5,914.7 881.3,913.1 882.2,911.7 882.9,910.1 883.5,909.1 884.3,907.4 884.9,906.1 885.6,904.5 886.4,903.0 887.2,901.7 887.6,900.2 888.5,898.6 889.0,897.1 889.6,895.6 890.5,894.1 891.2,892.7 891.9,891.1 892.0,889.6 892.9,888.4 893.3,886.8 894.1,885.2 894.3,883.9 894.8,882.5 895.4,881.1 895.6,879.6 896.1,878.2 896.6,876.8 897.0,875.3 897.4,873.7 897.5,872.1 897.8,870.5 898.3,868.8 898.4,867.1 898.5,865.1 898.8,863.1 899.1,860.9 899.1,858.8 899.1,856.4 899.3,853.9 899.3,851.4 899.4,850.1 899.2,848.8 899.4,847.5 899.4,846.2 899.4,844.8 899.8,843.4 899.6,842.1 899.9,840.8 899.9,839.4 899.8,838.2 900.0,836.8 900.1,835.5 900.0,834.0 900.2,832.5 900.1,830.9 900.2,829.4 900.4,827.9 900.5,826.4 900.5,824.8 900.4,823.2 900.2,821.6 900.7,820.0 900.4,818.4 900.6,816.7 900.8,815.1 900.5,813.6 900.5,811.9 901.0,810.3 901.0,808.7 901.1,807.1 900.8,805.5 901.1,803.9 901.2,802.4 901.1,800.7 900.9,799.2 901.2,797.6 901.3,796.1 901.1,794.6 901.3,793.1 901.1,791.5 901.2,789.9 901.5,788.4 901.4,786.9 901.4,785.3 901.4,783.8 901.4,782.2 901.7,780.7 901.7,779.2 901.5,777.7 902.0,776.2 902.0,774.7 901.8,773.2 902.1,771.8 901.8,770.3 901.9,768.9 902.1,767.5 901.8,766.1 902.0,764.8 902.3,763.5 902.2,762.2 902.4,760.2 902.3,758.0 902.5,755.7 902.5,753.5 902.7,751.3 902.6,749.2 902.8,747.2 902.8,745.4 902.6,744.0 903.0,742.8 902.7,742.2 902.8,742.0 902.9,742.4 903.4,743.5 903.2,745.3 903.4,747.5 903.7,750.0 903.4,751.3 903.5,752.6 903.4,754.0 903.9,755.3 903.9,757.9 903.7,760.0 904.0,761.8 904.3,763.0 904.3,763.4 904.4,763.0 904.5,761.9 904.7,760.0 904.5,757.8 904.7,756.4 904.9,755.1 904.7,753.5 904.8,752.0 905.1,750.4 904.9,748.8 904.9,747.1 905.0,745.4 905.1,743.7 905.3,742.0 905.4,740.4 905.3,738.8 905.6,737.3 905.6,735.8 905.3,734.4 905.3,733.0 905.8,730.4 905.9,727.9 905.7,725.3 905.9,722.8 906.3,720.3 906.4,717.7 906.3,715.2 906.5,713.9 906.3,712.6 906.5,711.2 906.9,709.9 906.6,708.6 906.9,707.2 906.9,705.8 907.0,704.4 907.0,702.9 907.0,701.5 907.1,699.6 907.1,697.8 907.0,695.8 907.1,693.9 907.2,692.5 907.2,691.2 907.3,689.9 907.6,688.6 907.2,687.2 907.3,685.8 907.7,684.5 907.6,683.1 907.6,681.7 907.8,680.3 907.9,678.9 907.9,677.5 907.7,676.1 907.8,674.6 907.6,673.2 907.7,671.8 907.9,670.3 907.6,668.9 908.0,667.4 908.0,666.0 907.9,664.5 907.9,663.0 908.2,661.5 908.2,660.0 908.2,658.5 908.1,657.0 908.4,655.5 908.3,653.9 908.2,652.4 908.1,650.9 908.1,649.4 908.4,647.9 908.4,646.4 908.4,644.9 908.3,643.5 908.4,642.1 908.4,640.7 908.1,639.3 908.3,638.0 908.6,636.4 908.5,634.9 908.3,633.4 908.5,631.9 908.7,630.4 908.6,629.1 908.5,627.7 908.6,626.4 908.3,625.1 908.2,623.8 908.4,622.5 908.6,621.1 908.7,619.8 908.4,618.5 908.5,617.1 908.3,615.8 908.7,614.5 908.3,613.2 908.8,611.8 908.4,610.5 908.8,609.2 908.6,607.9 908.4,606.6 908.5,605.1 908.4,603.7 908.5,602.2 908.8,600.7 908.5,599.3 908.8,597.9 908.4,596.6 908.7,595.3 908.4,594.0 908.5,592.6 908.4,591.2 908.9,589.8 908.7,588.4 908.5,587.0 908.5,585.5 908.8,584.1 909.0,582.6 908.8,581.2 908.8,579.8 908.6,578.8 908.7,579.8 908.9,581.2 908.8,582.6 909.0,584.1 908.7,585.5 908.8,587.0 909.0,588.4 908.9,589.8 908.9,591.2 908.8,592.6 908.9,594.0 908.7,595.3 908.8,596.6 909.2,597.9 909.0,599.3 909.1,600.7 909.0,602.2 909.0,603.7 908.9,605.2 908.8,606.6 909.2,607.9 908.8,609.2 908.9,610.5 909.0,611.8 909.3,613.2 909.1,614.5 909.1,615.8 908.8,617.1 909.0,618.5 908.9,619.8 908.9,621.1 909.0,622.5 909.2,623.8 909.2,625.1 909.1,626.4 909.0,627.7 909.1,629.1 909.1,630.4 909.3,631.9 909.0,633.4 909.4,634.9 909.0,636.4 909.3,637.9 909.4,639.3 909.4,640.7 909.4,642.1 909.3,643.5 909.0,644.9 909.2,646.4 909.3,647.9 909.2,649.4 909.5,650.9 909.2,652.4 909.4,654.0 909.5,655.5 909.3,657.0 909.2,658.6 909.3,660.1 909.6,661.7 909.3,663.2 909.7,664.7 909.3,666.2 909.3,667.8 909.5,669.3 909.4,670.8 909.7,672.3 909.6,673.8 909.4,675.2 909.6,676.7 909.8,678.2 909.6,679.6 909.8,681.1 909.6,682.5 910.0,683.9 909.6,685.3 909.8,686.6 909.7,688.0 909.9,689.3 909.9,690.7 909.8,692.6 910.0,694.5 910.0,696.3 910.1,698.1 910.2,699.8 910.2,701.5 910.1,703.5 910.1,705.2 910.1,706.9 910.1,708.4 910.2,709.9 910.4,711.3 910.5,712.9 910.4,714.4 910.3,715.9 910.8,717.7 910.7,719.6 910.4,721.7 910.5,723.3 910.5,724.9 910.5,726.4 910.7,727.8 910.5,729.1 910.9,730.5 910.5,731.8 911.0,733.3 910.8,734.9 911.0,736.4 910.9,737.9 910.5,739.5 910.8,741.1 910.8,742.8 910.9,744.4 910.8,745.7 910.7,747.1 910.6,748.5 910.8,749.8 911.0,751.2 910.8,752.6 911.0,754.0 911.1,755.4 910.7,756.9 911.2,758.2 911.1,759.7 911.0,761.1 911.1,762.5 911.2,763.9 910.9,765.4 911.2,766.8 911.1,768.2 910.8,769.6 911.0,771.0 911.0,772.4 911.0,773.8 911.2,775.2 910.8,776.6 911.0,777.9 911.2,779.3 911.0,780.6 911.0,782.0 911.2,783.3 911.4,784.6 911.4,785.9 911.4,787.4 911.2,789.0 911.3,790.5 911.3,792.0 911.3,793.4 911.1,794.8 911.4,796.2 911.5,797.6 911.5,799.4 911.5,801.3 911.5,803.1 911.6,805.0 911.5,806.7 911.2,808.5 911.4,810.3 911.3,812.1 911.6,813.8 911.4,815.5 911.3,817.2 911.4,818.8 911.4,820.4 911.7,822.0 911.7,823.5 911.6,825.0 911.8,826.5 911.6,828.0 912.1,829.3 912.1,830.7 912.0,833.2 912.3,835.5 912.4,837.5 912.6,839.3 912.9,840.9 913.0,842.3 913.2,843.6 913.8,845.1 914.0,846.2 915.3,847.5 916.9,848.2 918.3,849.1 920.1,849.9 921.6,850.8 922.9,851.1 924.8,851.8 926.0,852.3 927.4,852.5 929.2,853.4 930.5,853.8 931.6,854.6 932.9,855.7 933.8,856.8 934.8,857.8 936.0,859.1 937.0,860.4 938.1,861.4 939.1,862.7 939.7,863.8 940.6,864.9 941.8,866.4 942.5,867.6 943.1,868.8 944.0,870.4 945.0,871.9 945.8,873.3 946.1,874.3 946.7,875.6 947.4,877.0 948.2,878.3 948.6,879.8 949.5,881.2 950.3,882.5 950.9,884.0 951.4,885.4 952.0,886.6 952.5,888.3 953.4,889.7 954.1,891.2 954.5,892.5 955.4,894.1 955.8,895.5 956.5,896.9 957.1,898.4 957.5,899.8 958.3,901.4 959.1,902.7 959.6,904.2 960.4,905.6 961.0,907.1 961.8,908.6 962.1,909.9 963.3,911.3 963.5,912.8 964.5,914.1 965.3,915.6 965.7,917.0 966.6,918.3 967.2,919.6 968.0,921.1 968.7,922.5 969.7,923.9 970.3,925.2 970.8,926.4 971.5,928.0 972.4,929.3 972.8,930.7 973.8,932.1 974.2,933.5 974.9,934.9 975.9,936.5 976.7,938.1 976.9,939.3 978.0,940.9 978.6,942.3 979.0,943.8 979.8,945.3 980.5,946.6 981.0,948.3 981.4,949.5 982.3,951.0 982.7,952.2 983.3,953.8 984.2,955.3 984.8,956.6 985.6,958.0 986.3,959.4 987.5,960.7 987.9,962.1 988.8,963.4 989.8,964.6 990.6,966.0 991.0,967.4 991.9,968.6 992.8,970.0 993.7,971.4 994.6,972.5 995.5,973.7 996.2,975.1 997.4,976.3 998.0,977.5 998.8,978.9 999.7,980.1 1000.9,981.4 1001.6,982.8 1002.7,984.1 1003.9,985.3 1004.6,986.3 1005.7,987.4 1006.6,988.6 1008.0,990.0 1009.2,990.9 1010.5,992.1 1011.5,993.4 1012.7,994.2 1014.2,995.3 1015.7,996.4 1016.9,997.4 1018.6,998.4 1019.7,999.3 1021.0,1000.2 1022.5,1001.3 1024.0,1002.0 1025.3,1002.9 1026.8,1003.8 1028.2,1004.7 1029.4,1005.5 1030.9,1006.2 1032.1,1006.9 1033.7,1007.7 1035.0,1008.8 1036.6,1009.5 1037.7,1010.3 1038.9,1011.2 1040.3,1011.9 1042.1,1012.8 1043.1,1013.5 1044.8,1014.1 1046.2,1015.2 1047.2,1015.6 1048.8,1016.4 1050.3,1017.2 1051.6,1017.8 1052.7,1018.6 1054.4,1019.2 1055.5,1019.9 1056.9,1020.7 1058.5,1021.3 1060.0,1022.1 1061.1,1022.8 1062.7,1023.2 1064.4,1024.0 1065.8,1024.8 1067.6,1025.3 1069.1,1025.9 1070.8,1026.6 1072.3,1027.3 1073.8,1027.7 1075.6,1028.5 1077.2,1029.2 1079.1,1029.7 1080.2,1030.4 1081.9,1030.9 1083.6,1031.6 1084.9,1032.0 1086.4,1032.5 1087.7,1032.5 1089.6,1032.2 1091.0,1031.2 1092.7,1029.9 1093.4,1028.6 1094.6,1027.1 1095.2,1025.3 1095.9,1023.4 1096.2,1021.9 1096.6,1020.1 1096.9,1018.0 1097.1,1015.9 1097.2,1013.9 1097.5,1012.1 1097.9,1010.8 1097.9,1009.9 1098.2,1009.4 1098.4,1009.6 1098.8,1010.4 1099.0,1011.8 1099.1,1013.4 1099.0,1015.3 1099.0,1017.4 1099.5,1019.6 1099.2,1021.7 1099.7,1023.9 1099.7,1025.9 1099.9,1027.6 1100.0,1029.1 1100.7,1031.0 1100.9,1032.6 1101.8,1034.2 1102.2,1035.6 1103.3,1036.7 1104.0,1037.9 1105.7,1038.8 1107.2,1039.3 1109.0,1039.9 1110.7,1040.5 1112.0,1041.1 1113.7,1041.8 1114.9,1041.8 1116.7,1042.7 1118.5,1043.2 1120.4,1043.7 1122.2,1044.2 1124.0,1044.5 1125.5,1044.8 1127.1,1045.3 1128.5,1045.9 1130.2,1046.2 1131.7,1046.5 1133.8,1047.1 1135.4,1047.6 1136.7,1047.9 1138.5,1048.4 1139.8,1048.6 1141.7,1049.0 1143.7,1049.3 1145.5,1049.7 1146.7,1049.9 1148.3,1049.9 1149.9,1049.0 1150.9,1048.2 1151.8,1046.7 1152.5,1045.2 1153.3,1043.7 1153.9,1042.0 1154.4,1040.3 1154.5,1038.5 1155.3,1036.8 1155.3,1035.1 1155.8,1033.2 1156.1,1031.4 1156.2,1029.9 1156.6,1029.4 1157.2,1030.0 1157.3,1031.6 1158.0,1033.6 1158.5,1035.9 1158.6,1038.1 1159.4,1039.6 1159.5,1040.2 1160.1,1039.6 1160.5,1038.3 1161.5,1036.2 1161.9,1034.0 1162.2,1031.9 1162.5,1030.5 1162.5,1028.6 1163.2,1026.6 1163.1,1024.5 1163.1,1022.4 1163.4,1020.4 1163.7,1018.4 1163.6,1016.7 1163.8,1015.4 1164.1,1014.5 1164.3,1014.3 1164.4,1014.6 1164.7,1015.4 1164.8,1016.6 1165.0,1018.3 1164.8,1020.1 1165.0,1022.1 1165.3,1024.2 1165.5,1026.4 1165.5,1028.5 1165.9,1030.3 1165.7,1031.9 1166.0,1033.7 1165.9,1035.4 1166.2,1037.3 1166.4,1039.2 1166.5,1041.0 1167.0,1042.3 1167.3,1043.7 1167.7,1044.4 1169.1,1045.2 1170.8,1045.0 1171.5,1044.3 1171.8,1042.6 1172.2,1040.9 1172.9,1039.0 1173.5,1037.8 1174.6,1036.5 1176.1,1036.0 1176.4,1036.5 1177.0,1037.7 1177.1,1039.5 1177.4,1041.5 1177.8,1043.4 1178.2,1045.4 1178.6,1046.9 1179.4,1048.9 1179.9,1050.4 1180.5,1052.3 1181.9,1053.6 1183.1,1054.7 1184.8,1055.2 1186.6,1055.7 1188.5,1056.8 1190.2,1056.8 1191.4,1057.2 1193.2,1057.5 1195.1,1057.7 1197.0,1057.9 1198.4,1058.2 1200.0,1058.2 1201.8,1058.4 1203.8,1058.5 1205.5,1058.9 1207.2,1059.1 1209.0,1058.6 1210.1,1058.2 1211.4,1057.4 1212.5,1056.2 1213.2,1054.9 1213.8,1053.4 1214.6,1051.9 1214.9,1050.5 1215.6,1048.9 1215.9,1047.3 1215.8,1045.7 1216.4,1043.8 1216.5,1041.9 1216.8,1040.3 1217.1,1038.9 1217.4,1037.2 1217.7,1035.7 1217.8,1034.1 1217.9,1032.5 1217.8,1030.9 1218.1,1029.4 1218.3,1027.8 1218.1,1026.2 1218.6,1024.9 1218.5,1023.4 1219.0,1021.6 1219.2,1019.6 1219.4,1017.6 1219.9,1015.9 1219.8,1014.7 1220.1,1014.3 1220.4,1014.7 1220.5,1015.7 1221.0,1017.2 1221.1,1019.0 1221.5,1021.0 1221.4,1023.1 1221.6,1025.1 1221.7,1026.9 1222.1,1028.7 1222.0,1030.6 1222.3,1032.8 1222.4,1034.7 1222.5,1036.7 1222.9,1038.2 1223.4,1039.5 1223.6,1040.3 1224.2,1040.3 1225.2,1040.2 1225.7,1039.6 1226.1,1038.7 1226.0,1037.6 1226.3,1036.2 1226.9,1034.6 1226.8,1032.7 1227.2,1031.0 1227.4,1029.0 1227.4,1027.2 1227.4,1025.3 1227.7,1023.4 1227.8,1021.4 1228.3,1019.4 1228.2,1017.2 1228.5,1014.9 1228.7,1012.6 1228.9,1010.2 1229.0,1007.9 1229.0,1005.6 1229.3,1003.3 1229.4,1001.0 1229.4,998.9 1229.8,996.8 1230.0,995.0 1230.0,993.1 1230.1,991.2 1230.0,989.0 1230.5,987.0 1230.5,985.1 1230.6,983.3 1230.6,981.7 1230.6,980.4 1230.8,979.2 1231.0,978.5 1231.1,978.5 1231.3,978.6 1231.5,979.2 1231.6,980.4 1231.8,981.7 1231.6,983.2 1232.2,984.9 1231.9,986.9 1232.0,988.9 1232.6,990.9 1232.8,992.9 1232.7,994.9 1232.8,996.8 1232.9,999.2 1233.0,1000.6 1232.9,1001.9 1233.0,1003.2 1233.3,1004.6 1233.5,1006.0 1233.2,1007.5 1233.3,1008.9 1233.4,1010.4 1233.6,1011.8 1233.3,1013.3 1233.4,1014.8 1233.4,1016.3 1233.5,1017.8 1233.5,1019.2 1234.0,1020.7 1233.7,1022.1 1234.2,1023.5 1233.9,1024.9 1234.3,1026.2 1234.1,1027.7 1234.2,1030.2 1234.7,1032.2 1234.9,1034.2 1234.7,1036.2 1235.2,1038.2 1234.9,1040.2 1235.4,1042.1 1235.4,1044.0 1235.5,1045.7 1235.9,1047.5 1236.1,1049.1 1236.5,1050.7 1236.8,1051.9 1237.4,1053.7 1238.2,1055.3 1239.0,1057.0 1240.0,1058.1 1241.0,1059.3 1242.5,1060.3 1243.6,1061.0 1245.2,1061.5 1247.1,1062.0 1248.7,1062.1 1250.0,1062.7 1251.6,1063.0 1253.1,1062.9 1254.7,1063.1 1256.3,1062.8 1257.5,1062.0 1258.8,1060.6 1260.2,1059.3 1262.0,1057.7 1263.5,1056.6 1264.4,1057.5 1265.0,1058.9 1266.2,1060.2 1267.4,1061.3 1268.6,1062.6 1270.3,1063.8 1272.0,1064.0 1273.1,1064.4 1275.1,1064.9 1276.7,1065.0 1278.7,1065.2 1280.6,1065.4 1282.0,1065.5 1283.3,1065.5 1284.6,1065.6 1286.1,1065.6 1287.5,1065.8 1289.4,1065.8 1290.9,1065.9 1292.3,1066.1 1293.8,1066.1 1295.8,1066.0 1297.3,1066.1 1298.7,1066.3 1299.9,1066.2 1301.5,1066.1 1303.4,1066.3 1304.8,1066.4 1306.0,1066.6 1307.8,1066.3 1309.0,1066.6 1310.8,1066.5 1312.4,1066.5 1314.0,1066.5 1315.1,1066.2 1317.0,1066.3 1318.7,1066.3 1320.1,1066.5 1322.0,1066.3 1323.4,1066.1 1325.2,1066.0 1326.7,1066.1 1328.1,1065.9 1329.3,1065.9 1330.5,1065.7 1332.4,1065.5 1334.4,1065.4 1335.8,1065.0 1337.1,1064.5 1338.5,1063.3 1339.4,1061.8 1339.9,1059.9 1341.1,1058.6 1341.7,1056.9 1342.7,1055.1 1343.6,1054.5 1344.5,1055.2 1345.7,1057.0 1346.6,1058.7 1347.6,1060.8 1349.3,1061.7 1349.9,1061.4 1350.7,1060.2 1351.8,1058.8 1352.2,1057.0 1353.3,1055.3 1353.8,1053.7 1354.2,1051.8 1354.8,1049.7 1355.2,1047.7 1355.7,1046.0 1355.8,1044.9 1356.3,1044.3 1356.8,1044.8 1357.4,1045.9 1357.6,1047.3 1358.2,1049.4 1358.2,1051.2 1358.8,1053.4 1359.1,1055.4 1359.7,1057.0 1360.1,1058.7 1360.9,1060.4 1361.4,1061.9 1362.2,1063.4 1363.2,1064.4 1364.4,1065.6 1365.6,1066.3 1367.0,1066.8 1368.9,1067.3 1370.3,1067.6 1371.7,1067.5 1373.3,1067.6 1375.3,1068.0 1376.8,1067.5 1378.5,1067.7 1380.3,1067.5 1382.3,1067.4 1383.6,1067.2 1385.3,1067.2 1387.0,1067.2 1388.5,1066.7 1390.1,1066.8 1391.6,1066.5 1392.5,1065.8 1394.0,1064.6 1395.3,1063.4 1396.3,1062.0 1397.1,1060.6 1397.8,1059.2 1398.4,1057.8 1399.0,1056.3 1399.6,1054.7 1400.0,1053.3 1400.5,1051.9 1401.1,1049.6 1401.6,1047.6 1402.6,1046.6 1403.3,1047.5 1404.5,1049.4 1405.5,1051.9 1405.7,1053.1 1406.4,1054.5 1407.2,1056.3 1407.8,1057.8 1408.5,1059.4 1409.2,1060.6 1410.3,1062.2 1411.0,1063.5 1412.2,1064.7 1413.7,1065.7 1414.6,1066.3 1415.7,1066.6 1417.6,1066.8 1419.2,1067.0 1420.5,1067.0 1422.1,1067.1 1424.1,1067.2 1425.7,1067.2 1427.2,1067.5 1428.6,1067.3 1430.4,1067.4 1431.9,1067.5 1433.6,1067.4 1435.4,1067.5 1436.7,1067.3 1438.3,1067.3 1440.1,1067.3 1441.7,1067.3 1443.4,1067.2 1444.9,1067.2 1446.4,1067.3 1448.3,1066.8 1449.9,1066.8 1451.3,1066.8 1452.7,1066.7 1454.5,1066.5 1456.1,1066.6 1457.6,1066.5 1459.3,1066.1 1460.6,1066.2 1462.3,1066.3 1464.0,1066.3 1465.7,1066.4 1467.4,1066.5 1468.8,1066.5 1470.7,1066.7 1472.2,1066.7 1473.6,1066.6 1475.5,1066.7 1476.9,1066.8 1478.3,1066.9 1479.5,1066.7 1481.5,1066.5 1483.1,1066.7 1485.0,1066.5 1486.7,1066.2 1488.2,1065.9 1489.9,1065.6 1491.2,1064.9 1492.3,1064.1 1493.8,1063.3 1494.5,1062.0 1495.4,1060.7 1495.8,1059.2 1496.3,1057.7 1496.9,1056.0 1497.4,1054.0 1497.6,1052.4 1497.8,1050.6 1498.1,1048.9 1498.5,1046.9 1498.6,1044.9 1498.7,1042.9 1498.9,1040.9 1499.1,1039.1 1499.2,1037.6 1499.6,1036.9 1500.0,1036.6 1500.5,1037.0 1500.8,1038.8 1501.4,1040.9 1501.6,1043.1 1501.9,1044.6 1502.0,1046.4 1502.2,1048.2 1502.4,1050.2 1502.7,1052.1 1502.8,1053.3 1503.8,1054.4 1505.2,1054.9 1507.6,1055.0 1509.4,1054.3 1510.4,1052.8 1510.8,1050.8 1511.3,1048.9 1511.9,1047.9 1512.7,1048.7 1513.3,1050.4 1513.7,1052.6 1514.2,1054.3 1515.1,1056.4 1516.4,1058.4 1517.2,1059.2 1517.8,1058.6 1518.8,1057.1 1519.9,1054.9 1520.4,1053.1 1521.3,1051.2 1522.1,1049.0 1523.0,1047.5 1523.8,1046.8 1524.7,1047.9 1526.0,1049.9 1526.8,1051.8 1528.3,1053.0 1529.3,1053.6 1530.2,1053.1 1530.8,1052.5 1531.3,1053.5 1532.5,1055.1 1533.3,1057.3 1534.2,1059.0 1535.3,1060.2 1536.5,1058.9 1537.4,1056.8 1539.0,1055.7 1539.7,1056.6 1540.7,1058.1 1542.1,1060.0 1543.5,1061.5 1544.9,1062.9 1545.8,1063.8" fill="none" stroke="#2036f8" stroke-width="2.7" stroke-linejoin="round" stroke-linecap="round" clip-path="url(#cd)"/>
<path d="M469.9 525V539.8" stroke="#fa0814" stroke-width="4.2" stroke-linecap="butt" fill="none"/>
<path d="M803.2 525V539.8" stroke="#fa0814" stroke-width="4.5" stroke-linecap="butt" fill="none"/>
<path d="M834.3 525V539.8" stroke="#fa0814" stroke-width="2" stroke-linecap="butt" fill="none"/>
<path d="M226.2 525V539.8M414.1 525V539.8M481.5 525V539.8M484.4 525V539.8M534.3 525V539.8M539.1 525V539.8M568.2 525V539.8M574.6 525V539.8M609.5 525V539.8M658.6 525V539.8M666.6 525V539.8M706.8 525V539.8M715.5 525V539.8M819.3 525V539.8M821.4 525V539.8M823.5 525V539.8M827.2 525V539.8M829.3 525V539.8M831.4 525V539.8M833.5 525V539.8" stroke="#fa0814" stroke-width="2.7" stroke-linecap="butt" fill="none"/>
<path d="M1164.3 525V539.8" stroke="#fa0814" stroke-width="4" stroke-linecap="butt" fill="none"/>
<path d="M1507.6 525V539.8" stroke="#fa0814" stroke-width="4" stroke-linecap="butt" fill="none"/>
<path d="M1535.5 525V539.8" stroke="#fa0814" stroke-width="8.5" stroke-linecap="butt" fill="none"/>
<path d="M912.4 525V539.8M1104.6 525V539.8M1176.7 525V539.8M1179.4 525V539.8M1229.7 525V539.8M1234.2 525V539.8M1264.4 525V539.8M1270.2 525V539.8M1304.2 525V539.8M1356.2 525V539.8M1363.5 525V539.8M1406.1 525V539.8M1414.0 525V539.8M1519.2 525V539.8M1524.5 525V539.8" stroke="#fa0814" stroke-width="2.7" stroke-linecap="butt" fill="none"/>
<path d="M274.6 1077.4V1089.6M282.1 1077.4V1089.6M332.4 1077.4V1089.6M345.3 1077.4V1089.6M387.1 1077.4V1089.6M411.6 1077.4V1089.6M431.5 1077.4V1089.6M440.2 1077.4V1089.6M461.5 1077.4V1089.6M487.4 1077.4V1089.6M500.3 1077.4V1089.6M518.4 1077.4V1089.6M523.2 1077.4V1089.6M526.9 1077.4V1089.6M534.2 1077.4V1089.6M559.4 1077.4V1089.6M564.2 1077.4V1089.6M570.6 1077.4V1089.6M588.0 1077.4V1089.6M609.2 1077.4V1089.6M628.3 1077.4V1089.6M641.0 1077.4V1089.6M659.2 1077.4V1089.6M664.1 1077.4V1089.6M670.8 1077.4V1089.6M673.0 1077.4V1089.6M675.2 1077.4V1089.6M687.5 1077.4V1089.6M690.3 1077.4V1089.6M706.8 1077.4V1089.6M721.1 1077.4V1089.6M746.3 1077.4V1089.6M760.5 1077.4V1089.6M763.0 1077.4V1089.6M773.8 1077.4V1089.6M776.5 1077.4V1089.6M779.4 1077.4V1089.6M793.4 1077.4V1089.6M802.2 1077.4V1089.6M806.4 1077.4V1089.6M810.3 1077.4V1089.6M815.6 1077.4V1089.6M817.7 1077.4V1089.6M830.0 1077.4V1089.6M833.7 1077.4V1089.6M836.0 1077.4V1089.6M838.1 1077.4V1089.6M847.5 1077.4V1089.6" stroke="#52f512" stroke-width="3.3" stroke-linecap="round" fill="none"/>
<path d="M226.4 1098.5V1111.3M417.4 1098.5V1111.3M445.0 1098.5V1111.3M461.5 1098.5V1111.3M466.2 1098.5V1111.3M473.4 1098.5V1111.3M510.4 1098.5V1111.3M533.5 1098.5V1111.3M562.7 1098.5V1111.3M565.5 1098.5V1111.3M617.2 1098.5V1111.3M638.8 1098.5V1111.3M664.9 1098.5V1111.3M706.3 1098.5V1111.3M714.8 1098.5V1111.3M770.1 1098.5V1111.3M793.1 1098.5V1111.3M796.3 1098.5V1111.3M805.1 1098.5V1111.3M807.5 1098.5V1111.3M824.4 1098.5V1111.3M830.5 1098.5V1111.3M836.5 1098.5V1111.3" stroke="#fa0814" stroke-width="2.8" stroke-linecap="round" fill="none"/>
<path d="M1227.8 1077.4V1089.6" stroke="#52f512" stroke-width="4" stroke-linecap="round" fill="none"/>
<path d="M906.2 1077.4V1089.6M1092.7 1077.4V1089.6M1161.7 1077.4V1089.6M1164.6 1077.4V1089.6M1171.7 1077.4V1089.6M1179.7 1077.4V1089.6M1254.9 1077.4V1089.6M1266.0 1077.4V1089.6M1286.7 1077.4V1089.6M1347.7 1077.4V1089.6M1352.2 1077.4V1089.6M1390.4 1077.4V1089.6M1403.5 1077.4V1089.6M1493.7 1077.4V1089.6M1504.7 1077.4V1089.6M1507.6 1077.4V1089.6M1514.9 1077.4V1089.6M1528.5 1077.4V1089.6M1535.0 1077.4V1089.6M1541.9 1077.4V1089.6" stroke="#52f512" stroke-width="3.3" stroke-linecap="round" fill="none"/>
<path d="M1263.8 1098.5V1111.3" stroke="#fa0814" stroke-width="4.2" stroke-linecap="round" fill="none"/>
<path d="M909.4 1098.5V1111.3M1098.3 1098.5V1111.3M1156.6 1098.5V1111.3M1164.6 1098.5V1111.3M1173.5 1098.5V1111.3M1176.4 1098.5V1111.3M1220.1 1098.5V1111.3M1231.3 1098.5V1111.3M1295.3 1098.5V1111.3M1343.4 1098.5V1111.3M1356.9 1098.5V1111.3M1402.1 1098.5V1111.3M1406.9 1098.5V1111.3M1500.2 1098.5V1111.3M1505.2 1098.5V1111.3M1507.6 1098.5V1111.3M1512.0 1098.5V1111.3M1522.1 1098.5V1111.3M1525.3 1098.5V1111.3M1530.9 1098.5V1111.3M1539.8 1098.5V1111.3" stroke="#fa0814" stroke-width="2.8" stroke-linecap="round" fill="none"/>
<path d="M214.2 22.8v10.2M214.2 573.9v11.399999999999999M214.2 1125.7v10.2M391.1 22.8v10.2M391.1 573.9v11.399999999999999M391.1 1125.7v10.2M568.1 22.8v10.2M568.1 573.9v11.399999999999999M568.1 1125.7v10.2M745.0 22.8v10.2M745.0 573.9v11.399999999999999M745.0 1125.7v10.2M302.7 22.8v5.2M302.7 573.9v6.4M302.7 1125.7v5.2M479.6 22.8v5.2M479.6 573.9v6.4M479.6 1125.7v5.2M656.5 22.8v5.2M656.5 573.9v6.4M656.5 1125.7v5.2M833.5 22.8v5.2M833.5 573.9v6.4M833.5 1125.7v5.2M897.9 22.8v10.2M897.9 573.9v11.399999999999999M897.9 1125.7v10.2M1074.7 22.8v10.2M1074.7 573.9v11.399999999999999M1074.7 1125.7v10.2M1251.5 22.8v10.2M1251.5 573.9v11.399999999999999M1251.5 1125.7v10.2M1428.3 22.8v10.2M1428.3 573.9v11.399999999999999M1428.3 1125.7v10.2M986.3 22.8v5.2M986.3 573.9v6.4M986.3 1125.7v5.2M1163.1 22.8v5.2M1163.1 573.9v6.4M1163.1 1125.7v5.2M1339.9 22.8v5.2M1339.9 573.9v6.4M1339.9 1125.7v5.2M1516.7 22.8v5.2M1516.7 573.9v6.4M1516.7 1125.7v5.2M179.1 532.3h-10.2M179.1 1083.7h-10.2M179.1 447.4h-5.2M179.1 998.7h-5.2M179.1 362.5h-10.2M179.1 913.8h-10.2M179.1 277.6h-5.2M179.1 828.8h-5.2M179.1 192.6h-10.2M179.1 743.8h-10.2M179.1 107.7h-5.2M179.1 658.9h-5.2M179.1 22.8h-10.2M179.1 573.9h-10.2M863.0 532.3h-10.2M863.0 1083.7h-10.2M863.0 447.4h-10.2M863.0 998.7h-5.2M863.0 362.5h-10.2M863.0 913.8h-10.2M863.0 277.6h-10.2M863.0 828.8h-5.2M863.0 192.6h-10.2M863.0 743.8h-10.2M863.0 107.7h-10.2M863.0 658.9h-5.2M1546.7 532.3h-5.2M1546.7 1083.7h-10.2M1546.7 447.4h-10.2M1546.7 998.7h-5.2M1546.7 362.5h-5.2M1546.7 913.8h-10.2M1546.7 277.6h-10.2M1546.7 828.8h-5.2M1546.7 192.6h-5.2M1546.7 743.8h-10.2M1546.7 107.7h-10.2M1546.7 658.9h-5.2" stroke="#000" stroke-width="5" stroke-linecap="round" fill="none"/>
<path d="M176.5 22.8H1549.3500000000001" stroke="#000" stroke-width="5.4" fill="none"/>
<path d="M179.1 573.9H1546.7" stroke="#000" stroke-width="6.2" fill="none"/>
<path d="M176.5 1125.7H1549.3" stroke="#000" stroke-width="5.5" fill="none"/>
<path d="M179.1 22.8V1125.7" stroke="#000" stroke-width="5.3" fill="none"/>
<path d="M863.0 22.8V1125.7" stroke="#000" stroke-width="6.4" fill="none"/>
<path d="M1546.7 22.8V1125.7" stroke="#000" stroke-width="5.3" fill="none"/>
<text x="160.6" y="543.6" font-size="40" text-anchor="end">0</text>
<text x="160.6" y="1095.0" font-size="40" text-anchor="end">0</text>
<text x="160.6" y="373.8" font-size="40" text-anchor="end">400</text>
<text x="160.6" y="925.1" font-size="40" text-anchor="end">400</text>
<text x="160.6" y="204.0" font-size="40" text-anchor="end">800</text>
<text x="160.6" y="755.2" font-size="40" text-anchor="end">800</text>
<text x="160.6" y="34.2" font-size="40" text-anchor="end">1200</text>
<text x="160.6" y="585.3" font-size="40" text-anchor="end">1200</text>
<text x="214.2" y="1175.6" font-size="40" text-anchor="middle">15</text>
<text x="391.1" y="1175.6" font-size="40" text-anchor="middle">30</text>
<text x="568.1" y="1175.6" font-size="40" text-anchor="middle">45</text>
<text x="745.0" y="1175.6" font-size="40" text-anchor="middle">60</text>
<text x="897.9" y="1175.6" font-size="40" text-anchor="middle">15</text>
<text x="1074.7" y="1175.6" font-size="40" text-anchor="middle">30</text>
<text x="1251.5" y="1175.6" font-size="40" text-anchor="middle">45</text>
<text x="1428.3" y="1175.6" font-size="40" text-anchor="middle">60</text>
<text transform="translate(44.3 510) rotate(-90)" font-size="53.4" text-anchor="middle">Intensity (counts)</text>
<text x="620.4" y="1247.2" font-size="53.4" letter-spacing="0.28">2θ (degrees, Cu K<tspan font-size="33" dy="11.5">α</tspan><tspan dy="-11.5">)</tspan></text>
<text x="815.5" y="74.6" font-size="42" text-anchor="middle" letter-spacing="2.2">(a)</text>
<text x="1498.6000000000001" y="74.7" font-size="42" text-anchor="middle" letter-spacing="2.2">(c)</text>
<text x="813.4000000000001" y="626.6" font-size="42" text-anchor="middle" letter-spacing="2.2">(b)</text>
<text x="1503.6000000000001" y="627.0" font-size="42" text-anchor="middle" letter-spacing="2.2">(d)</text>
<text x="347.8" y="95.8" font-size="39.8" fill="#fa0814">Na<tspan font-size="26.3" dy="9.4">0.5</tspan><tspan dy="-9.4">CrO</tspan><tspan font-size="26.3" dy="9.4">2</tspan><tspan dy="-9.4"> (C2/m)</tspan></text>
<text x="347" y="169" font-size="39.5" fill="#000">a=5.001 Å</text>
<text x="347" y="216.3" font-size="39.5" fill="#000">b=2.883 Å</text>
<text x="347" y="263.8" font-size="39.5" fill="#000">c=5.877 Å</text>
<text x="561.5" y="216.3" font-size="39.5" fill="#000">β=105.597º</text>
<text x="1003" y="95.8" font-size="39.8" fill="#fa0814">Na<tspan font-size="26.3" dy="9.4">0.5</tspan><tspan dy="-9.4">CoO</tspan><tspan font-size="26.3" dy="9.4">2</tspan><tspan dy="-9.4"> (C2/m)</tspan></text>
<text x="1002.8" y="169" font-size="39.5" fill="#000">a=4.879 Å</text>
<text x="1002.8" y="216.3" font-size="39.5" fill="#000">b=2.815 Å</text>
<text x="1002.8" y="263.8" font-size="39.5" fill="#000">c=5.773 Å</text>
<text x="1217.8" y="216.3" font-size="39.5" fill="#000">β=105.584º</text>
<text x="370.3" y="626" font-size="39.8" fill="#fa0814">Na<tspan font-size="26.3" dy="9.4">0.5</tspan><tspan dy="-9.4">FeO</tspan><tspan font-size="26.3" dy="9.4">2</tspan></text>
<text x="370.3" y="672.7" font-size="39.8" fill="#fa0814">(C2/m)</text>
<text x="589.5" y="626" font-size="39.8" fill="#52f512">β-NaFeO<tspan font-size="26.3" dy="9.4">2</tspan></text>
<text x="589.5" y="672.7" font-size="39.8" fill="#52f512">(Pna2<tspan font-size="26.3" dy="9.4">1</tspan><tspan dy="-9.4">)</tspan></text>
<text x="370.2" y="746.8" font-size="39.5" fill="#000">a=5.242 Å</text>
<text x="588.8" y="746.8" font-size="39.5" fill="#000">a=5.659 Å</text>
<text x="370.2" y="793.9" font-size="39.5" fill="#000">b=2.899 Å</text>
<text x="588.8" y="793.9" font-size="39.5" fill="#000">b=7.148 Å</text>
<text x="370.2" y="841.1" font-size="39.5" fill="#000">c=5.896 Å</text>
<text x="588.8" y="841.1" font-size="39.5" fill="#000">c=5.376 Å</text>
<text x="370.2" y="888.2" font-size="39.5" fill="#000">β=109.147º</text>
<text x="1006.6" y="626" font-size="39.8" fill="#fa0814">Na<tspan font-size="26.3" dy="9.4">0.5</tspan><tspan dy="-9.4">NiO</tspan><tspan font-size="26.3" dy="9.4">2</tspan></text>
<text x="1007" y="672.8" font-size="39.8" fill="#fa0814">(C2/m)</text>
<text x="1253" y="626" font-size="39.8" fill="#52f512">Na<tspan font-size="26.3" dy="9.4">0.4</tspan><tspan dy="-9.4">NiO</tspan><tspan font-size="26.3" dy="9.4">2</tspan></text>
<text x="1253.5" y="672.8" font-size="39.8" fill="#52f512">(C2/m)</text>
<text x="1006.5" y="746.6" font-size="39.5" fill="#000">a=4.903 Å</text>
<text x="1253" y="746.6" font-size="39.5" fill="#000">a=4.937 Å</text>
<text x="1006.5" y="793.9" font-size="39.5" fill="#000">b=2.787 Å</text>
<text x="1253" y="793.9" font-size="39.5" fill="#000">b=2.798 Å</text>
<text x="1006.5" y="841.1" font-size="39.5" fill="#000">c=6.628 Å</text>
<text x="1253" y="841.1" font-size="39.5" fill="#000">c=5.900 Å</text>
<text x="1006.5" y="888.4" font-size="39.5" fill="#000">β=120.493º</text>
<text x="1253" y="888.4" font-size="39.5" fill="#000">β=107.147º</text>
</svg>
</body></html>
